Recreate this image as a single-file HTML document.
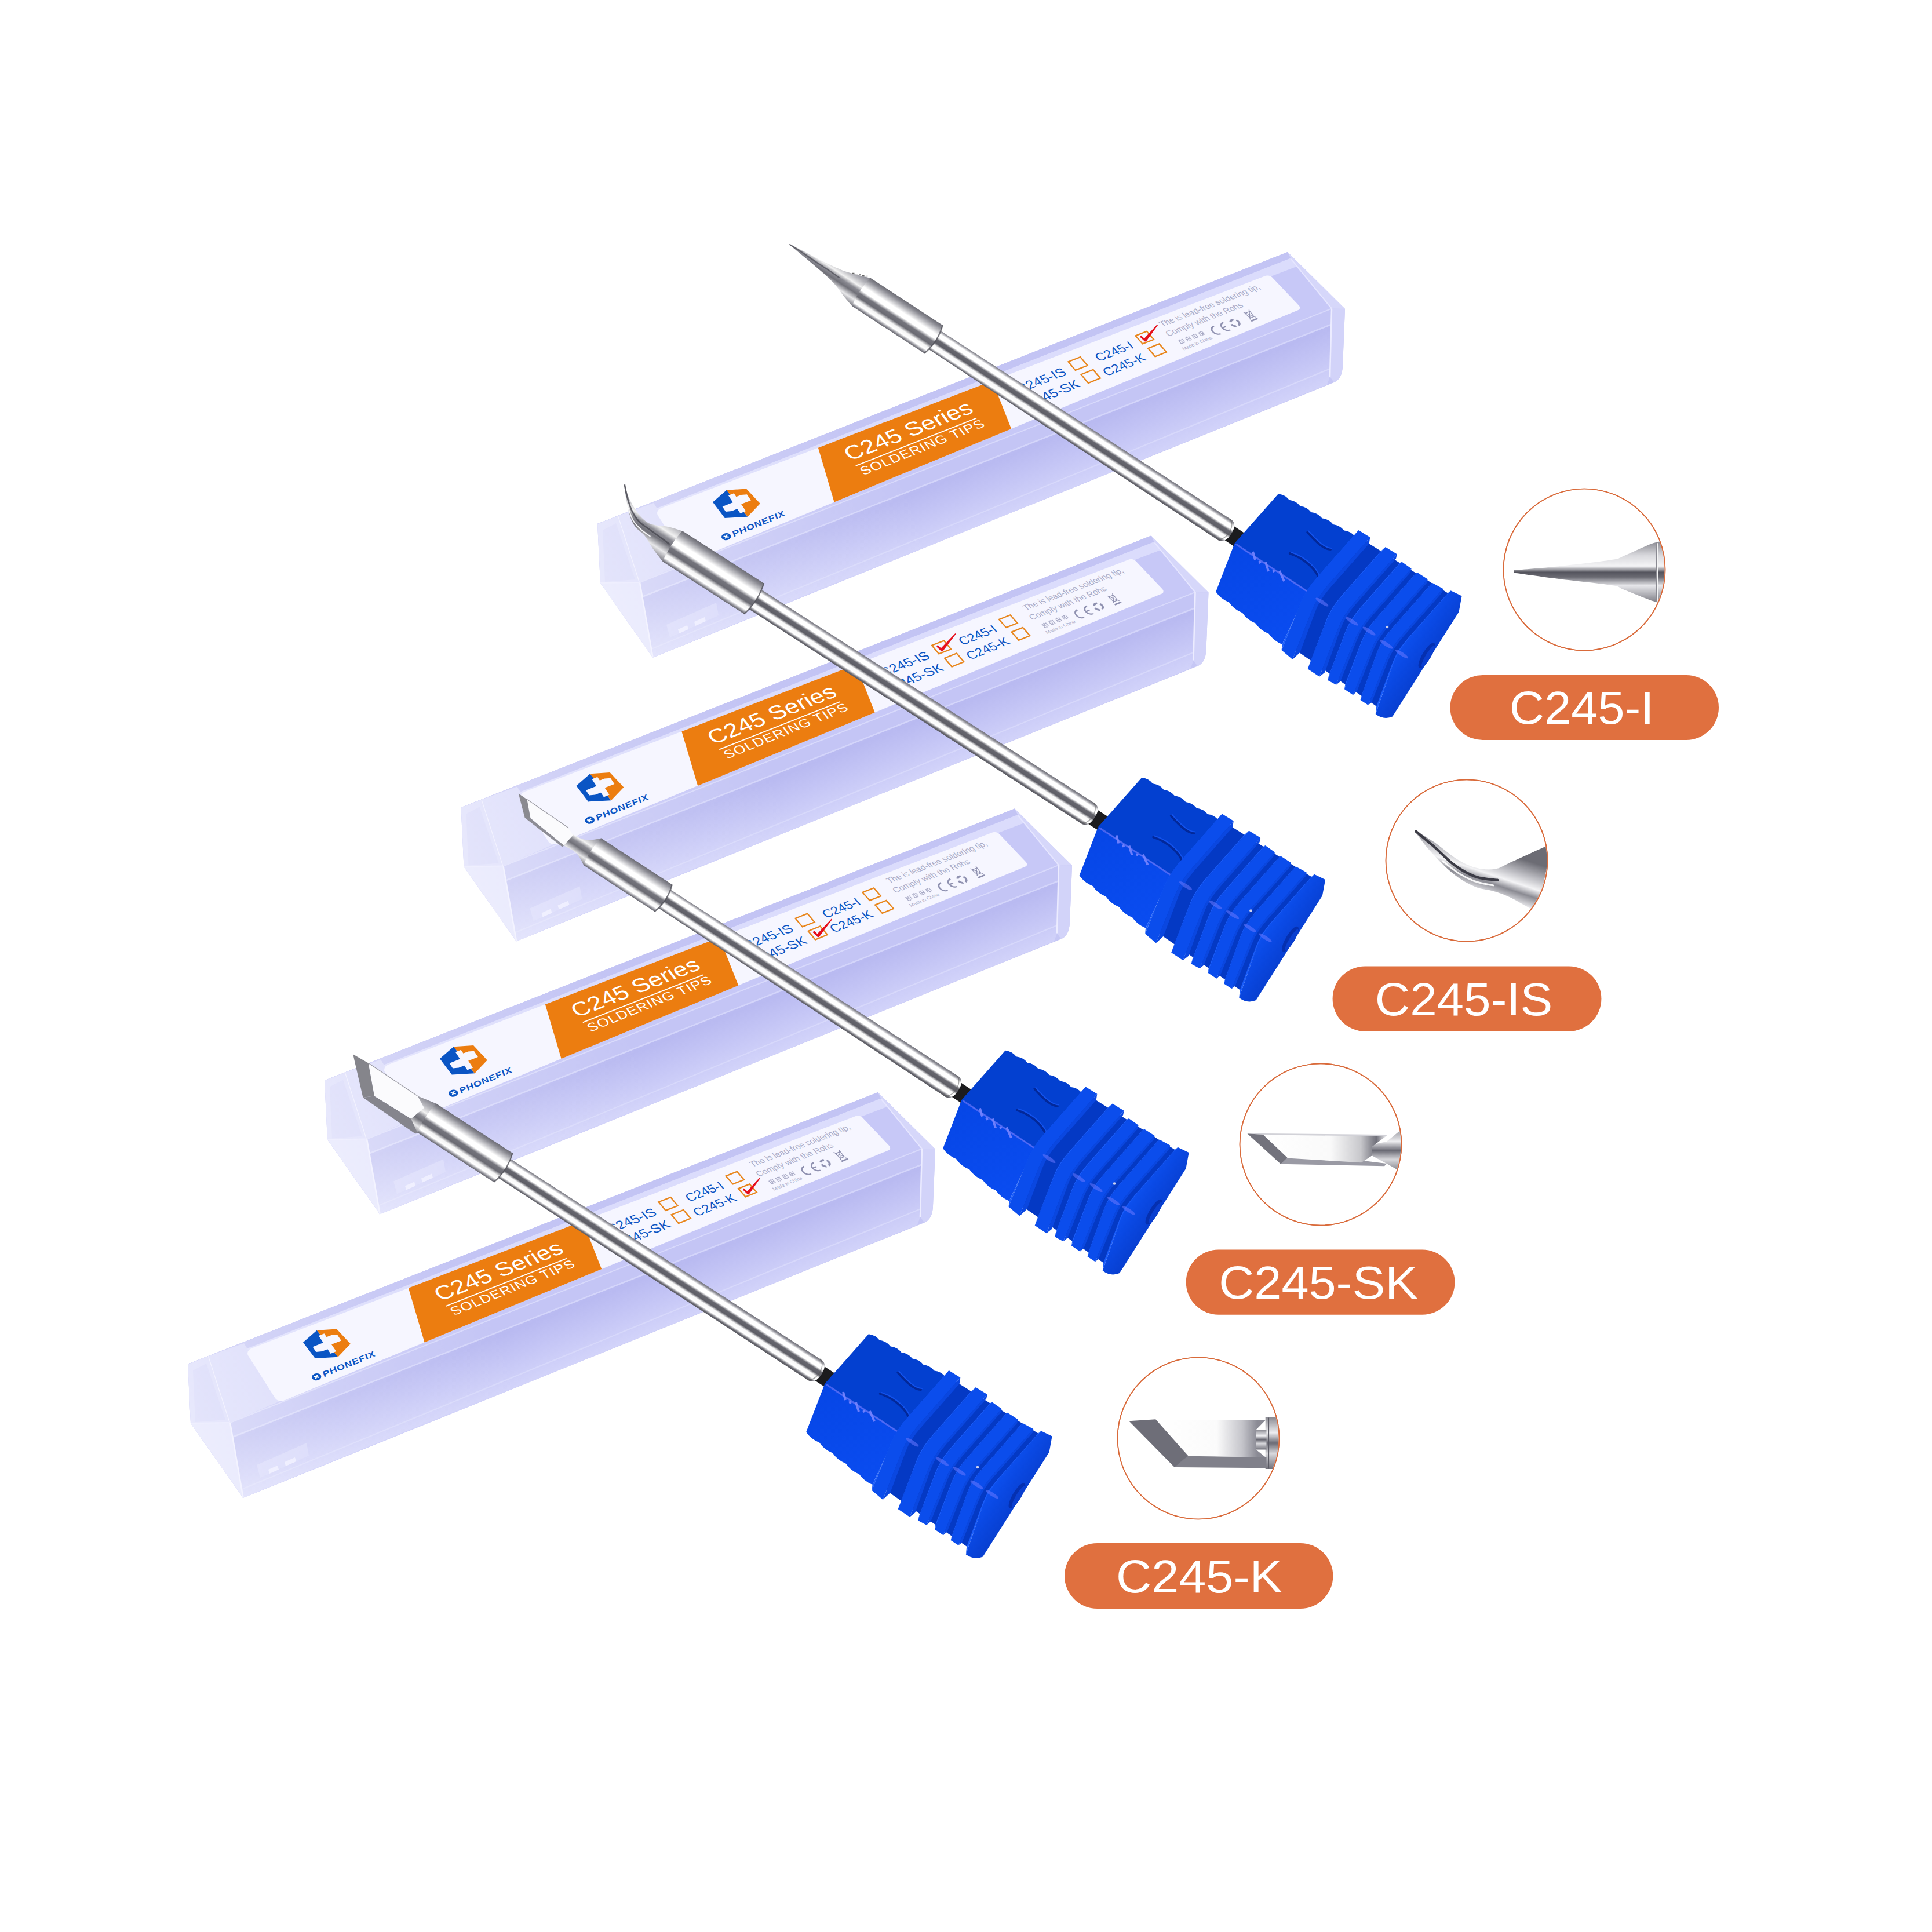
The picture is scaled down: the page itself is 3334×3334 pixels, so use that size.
<!DOCTYPE html>
<html><head><meta charset="utf-8"><title>C245 Series Soldering Tips</title>
<style>html,body{margin:0;padding:0;background:#fff}svg{display:block}text{font-family:"Liberation Sans",sans-serif}</style>
</head><body>
<svg width="3334" height="3334" viewBox="0 0 3334 3334">
<defs>
<linearGradient id="gFront" gradientUnits="userSpaceOnUse" x1="1600" y1="809" x2="1646" y2="925">
<stop offset="0" stop-color="#bfc0f3"/><stop offset="0.25" stop-color="#b9baf1"/><stop offset="0.55" stop-color="#c3c4f5"/><stop offset="1" stop-color="#d3d4fa"/></linearGradient>
<linearGradient id="gLeftLite" gradientUnits="userSpaceOnUse" x1="1040" y1="1020" x2="1560" y2="815">
<stop offset="0" stop-color="#ffffff" stop-opacity="0.42"/><stop offset="0.45" stop-color="#ffffff" stop-opacity="0.18"/><stop offset="1" stop-color="#ffffff" stop-opacity="0"/></linearGradient>

<linearGradient id="gRod" gradientUnits="objectBoundingBox" x1="0" y1="0" x2="0" y2="1">
<stop offset="0" stop-color="#707078"/><stop offset="0.07" stop-color="#909098"/><stop offset="0.17" stop-color="#ffffff"/><stop offset="0.33" stop-color="#ffffff"/>
<stop offset="0.43" stop-color="#66666e"/><stop offset="0.58" stop-color="#5e5e66"/><stop offset="0.68" stop-color="#f8f8f8"/><stop offset="0.83" stop-color="#ffffff"/>
<stop offset="0.93" stop-color="#6a6a72"/><stop offset="1" stop-color="#55555c"/></linearGradient>
<linearGradient id="gSlv" gradientUnits="objectBoundingBox" x1="0" y1="0" x2="0" y2="1">
<stop offset="0" stop-color="#6c6c74"/><stop offset="0.10" stop-color="#8e8e96"/><stop offset="0.22" stop-color="#c8c8cc"/><stop offset="0.33" stop-color="#ffffff"/><stop offset="0.46" stop-color="#ffffff"/>
<stop offset="0.56" stop-color="#74747c"/><stop offset="0.68" stop-color="#6a6a72"/><stop offset="0.78" stop-color="#f4f4f4"/><stop offset="0.88" stop-color="#ffffff"/>
<stop offset="0.96" stop-color="#8a8a92"/><stop offset="1" stop-color="#66666e"/></linearGradient>
<linearGradient id="gCone" gradientUnits="objectBoundingBox" x1="0" y1="0" x2="0" y2="1">
<stop offset="0" stop-color="#80808a"/><stop offset="0.2" stop-color="#b4b4ba"/><stop offset="0.38" stop-color="#f2f2f2"/><stop offset="0.5" stop-color="#8a8a92"/><stop offset="0.62" stop-color="#707078"/>
<stop offset="0.8" stop-color="#e8e8ea"/><stop offset="1" stop-color="#7a7a82"/></linearGradient>

<linearGradient id="gPlate" gradientUnits="userSpaceOnUse" x1="2420" y1="1100" x2="2470" y2="1135">
<stop offset="0" stop-color="#0d52f2"/><stop offset="0.45" stop-color="#0a49e4"/><stop offset="1" stop-color="#0840d2"/></linearGradient>
<linearGradient id="gHFront" gradientUnits="userSpaceOnUse" x1="2130" y1="940" x2="2200" y2="1110">
<stop offset="0" stop-color="#0646e6"/><stop offset="1" stop-color="#0a4cf0"/></linearGradient>
<clipPath id="cc0"><circle cx="2734.0" cy="983.0" r="138.6"/></clipPath>
<clipPath id="cc1"><circle cx="2531.0" cy="1485.0" r="138.6"/></clipPath>
<clipPath id="cc2"><circle cx="2279.0" cy="1975.0" r="138.6"/></clipPath>
<clipPath id="cc3"><circle cx="2068.0" cy="2482.0" r="138.6"/></clipPath>
<linearGradient id="gI" gradientUnits="userSpaceOnUse" x1="0" y1="935" x2="0" y2="1040">
<stop offset="0" stop-color="#8c8c94"/><stop offset="0.22" stop-color="#d8d8dc"/><stop offset="0.40" stop-color="#f4f4f6"/><stop offset="0.5" stop-color="#55555e"/><stop offset="0.58" stop-color="#6a6a72"/><stop offset="0.72" stop-color="#e6e6ea"/><stop offset="1" stop-color="#7c7c84"/></linearGradient>
<linearGradient id="gIS" gradientUnits="userSpaceOnUse" x1="2590" y1="1470" x2="2560" y2="1560">
<stop offset="0" stop-color="#6c6c74"/><stop offset="0.25" stop-color="#b8b8be"/><stop offset="0.45" stop-color="#f4f4f6"/><stop offset="0.6" stop-color="#8a8a92"/><stop offset="0.8" stop-color="#e8e8ec"/><stop offset="1" stop-color="#707078"/></linearGradient>
<linearGradient id="gSKf" gradientUnits="userSpaceOnUse" x1="2180" y1="0" x2="2390" y2="0">
<stop offset="0" stop-color="#ffffff"/><stop offset="0.55" stop-color="#fafafa"/><stop offset="0.8" stop-color="#c8c8cc"/><stop offset="0.93" stop-color="#70707a"/><stop offset="1" stop-color="#e0e0e4"/></linearGradient>
<linearGradient id="gNeck" gradientUnits="objectBoundingBox" x1="0" y1="0" x2="0" y2="1">
<stop offset="0" stop-color="#8a8a92"/><stop offset="0.3" stop-color="#ededf0"/><stop offset="0.5" stop-color="#6a6a74"/><stop offset="0.7" stop-color="#d8d8dc"/><stop offset="1" stop-color="#70707a"/></linearGradient>
<linearGradient id="gKf" gradientUnits="userSpaceOnUse" x1="1995" y1="0" x2="2170" y2="0">
<stop offset="0" stop-color="#ffffff"/><stop offset="0.6" stop-color="#fbfbfb"/><stop offset="0.85" stop-color="#c4c4ca"/><stop offset="1" stop-color="#8a8a94"/></linearGradient>

</defs>
<rect width="3334" height="3334" fill="#fff"/>
<g transform="translate(0.0 0.0)">
<path d="M1031.0,904.0 L2222.0,435.0 L2321.0,533.0 L2317.0,632.0 Q2316.0,654.0 2302.0,660.0 L1126.6,1134.8 L1036.0,1006.0 Z" fill="#c6c7f5"/>
<polygon points="1031.0,904.0 2222.0,435.0 2298.0,532.5 1104.0,1005.0" fill="#c7c8f7"/>
<polygon points="1060.0,906.0 2228.0,445.0 2240.0,459.0 1128.0,884.0" fill="#dbdcfc"/>
<polygon points="1031.0,904.0 2222.0,435.0 2228.0,445.0 1036.0,915.0" fill="#c3c4f4"/>
<polygon points="1104.0,1005.0 2298.0,532.5 2295.0,650.0 2290.0,664.0 1126.6,1134.8" fill="url(#gFront)"/>
<polygon points="1104.0,1005.0 2298.0,532.5 2297.0,560.0 1108.0,1030.0" fill="#c4c5f5"/>
<polyline points="1108.0,1030.0 2297.0,560.0" fill="none" stroke="#d6d7fb" stroke-width="2.5" opacity="0.9"/>
<polyline points="1104.0,1005.0 2298.0,532.5" fill="none" stroke="#dadbfc" stroke-width="2" opacity="0.9"/>
<polyline points="1124.0,1120.0 2296.0,636.0" fill="none" stroke="#d8d9fb" stroke-width="2.2" opacity="0.9"/>
<path d="M2298.0,532.5 L2321.0,533.0 L2317,632 Q2316,654 2302,660 L2295.0,650.0 Z" fill="#d2d3f9"/>
<polygon points="2222.0,435.0 2321.0,533.0 2298.0,532.5 2228.0,447.0" fill="#d6d7fa"/>
<polyline points="2298.0,532.5 2295.0,650.0" fill="none" stroke="#ececff" stroke-width="2.5"/>
<polyline points="2228.0,447.0 2298.0,532.5" fill="none" stroke="#e6e6ff" stroke-width="2"/>
<polygon points="1031.0,904.0 1067.0,890.0 1104.0,1005.0 1126.6,1134.8 1036.0,1006.0" fill="#d7d8fa"/>
<polygon points="1036.0,1006.0 1104.0,1005.0 1126.6,1134.8" fill="#dfe0fc"/>
<polygon points="1040.0,915.0 1063.0,903.0 1096.0,1000.0 1044.0,1004.0" fill="#d0d1f8"/>
<polyline points="1067.0,890.0 1104.0,1005.0 1126.6,1134.8" fill="none" stroke="#ececff" stroke-width="2.5"/>
<polyline points="1036.0,1006.0 1104.0,1005.0" fill="none" stroke="#e4e4fe" stroke-width="2"/>
<polygon points="1067.0,890.0 1128.0,868.0 1190.0,968.0 1104.0,1005.0" fill="#d6d7fa"/>
<polygon points="1150.0,1078.0 1236.0,1040.0 1240.0,1062.0 1156.0,1100.0" fill="#d4d5fa" opacity="0.9"/>
<polygon points="1170.0,1086.0 1186.0,1079.0 1188.0,1086.0 1172.0,1093.0" fill="#ebebff" opacity="0.9"/>
<polygon points="1198.0,1073.0 1216.0,1065.0 1218.0,1072.0 1200.0,1080.0" fill="#ebebff" opacity="0.9"/>
<polygon points="1031.0,904.0 1600.0,680.0 1700.0,900.0 1126.6,1134.8 1036.0,1006.0" fill="url(#gLeftLite)"/>
<polygon points="2184.4,475.8 2186.2,475.4 2188.1,475.4 2190.2,475.7 2192.2,476.4 2194.0,477.5 2195.5,478.7 2241.3,527.1 2242.4,528.6 2243.0,530.1 2243.1,531.7 2242.7,533.0 2241.8,534.2 2240.4,535.0 1198.6,966.2 1195.4,967.2 1192.1,967.5 1188.9,967.2 1185.9,966.2 1183.5,964.7 1181.8,962.8 1135.0,889.0 1134.1,886.7 1134.1,884.4 1134.9,882.0 1136.5,879.8 1138.7,878.0 1141.5,876.6" fill="#f6f6ff" />
<polygon points="1411.9,772.7 1712.5,657.2 1745.2,740.0 1439.6,866.5" fill="#ec7d10" />
<polygon points="1253.8,845.7 1290.1,891.8 1250.7,893.9 1230.0,866.4" fill="#0a55c4" />
<polygon points="1253.8,845.7 1288.0,843.6 1311.8,869.0 1290.1,891.8" fill="#ec7d10" />
<polygon points="1246.6,874.2 1264.8,867.0 1256.9,855.0 1266.5,851.2 1270.5,857.2 1278.9,853.9 1289.0,853.2 1295.9,863.4 1279.1,870.1 1287.1,882.1 1277.5,886.0 1272.3,878.2 1262.6,882.1 1252.3,882.9" fill="#f6f6ff" />
<g transform="matrix(1.2403 -0.5075 0.5806 0.8881 1253.20 926.06)"><circle r="6" fill="#0a55c4"/><path d="M-2.5,-2.5L2.5,2.5M2.5,-2.5L-2.5,2.5" stroke="#fff" stroke-width="1.8"/></g>
<text transform="matrix(1.21108 -0.49564 0.58202 0.87431 1266.74 926.13)" font-size="13.60" fill="#0a55c4" font-weight="bold" font-style="italic" letter-spacing="0.60" text-anchor="start" >PHONEFIX</text>
<text transform="matrix(1.01778 -0.39993 0.57538 0.76534 1466.89 795.74)" font-size="38.50" fill="#fff" font-weight="normal" font-style="normal" letter-spacing="0.00" text-anchor="start" >C245 Series</text>
<polyline points="1476.7,803.9 1685.0,721.6" fill="none" stroke="#fff" stroke-width="1.80" />
<text transform="matrix(1.03196 -0.41730 0.58305 0.78257 1490.39 820.60)" font-size="22.60" fill="#fff" font-weight="normal" font-style="normal" letter-spacing="1.15" text-anchor="start" >SOLDERING TIPS</text>
<text transform="matrix(0.88851 -0.35011 0.57392 0.70194 1760.70 678.18)" font-size="25.00" fill="#0a55c4" font-weight="normal" font-style="normal" letter-spacing="0.00" text-anchor="start" >C245-IS</text>
<text transform="matrix(0.89012 -0.35945 0.58013 0.71059 1775.72 703.58)" font-size="25.00" fill="#0a55c4" font-weight="normal" font-style="normal" letter-spacing="0.00" text-anchor="start" >C245-SK</text>
<text transform="matrix(0.81825 -0.32242 0.57040 0.66588 1896.73 624.23)" font-size="25.00" fill="#0a55c4" font-weight="normal" font-style="normal" letter-spacing="0.00" text-anchor="start" >C245-I</text>
<text transform="matrix(0.82040 -0.33142 0.57652 0.67443 1910.18 649.39)" font-size="25.00" fill="#0a55c4" font-weight="normal" font-style="normal" letter-spacing="0.00" text-anchor="start" >C245-K</text>
<polygon points="1843.5,624.2 1864.3,616.1 1876.6,630.7 1855.7,638.9" fill="none" stroke="#e8861c" stroke-width="2.3"/>
<polygon points="1959.6,579.4 1978.9,571.8 1991.1,585.8 1971.8,593.4" fill="none" stroke="#e8861c" stroke-width="2.3"/>
<polygon points="1865.6,646.2 1886.4,637.9 1898.8,652.6 1878.0,661.1" fill="none" stroke="#e8861c" stroke-width="2.3"/>
<polygon points="1981.2,601.1 2000.5,593.4 2012.8,607.5 1993.5,615.3" fill="none" stroke="#e8861c" stroke-width="2.3"/>
<polygon points="1967.3,581.6 1969.1,578.7 1974.7,583.9 1996.8,560.1 1998.1,560.9 1977.8,589.3 1975.9,589.6" fill="#e60f1c"/>
<text transform="matrix(0.71704 -0.27895 0.55904 0.60896 2006.00 564.02)" font-size="18.40" fill="#a9abc6" font-weight="normal" font-style="normal" letter-spacing="0.00" text-anchor="start" >The is lead-free soldering tip,</text>
<text transform="matrix(0.73665 -0.29176 0.56504 0.62425 2016.53 580.63)" font-size="18.20" fill="#a9abc6" font-weight="normal" font-style="normal" letter-spacing="0.00" text-anchor="start" >Comply with the Rohs</text>
<text transform="matrix(0.75546 -0.30876 0.57411 0.64316 2043.00 604.66)" font-size="10.20" fill="#a9abc6" font-weight="normal" font-style="normal" letter-spacing="0.00" text-anchor="start" >Made in China</text>
<g transform="matrix(0.76805 -0.30895 0.57152 0.64540 2031.34 587.36)" stroke="#a9abc6" stroke-width="1.3" fill="none"><path d="M1,2H11M1,6H11M1,10H11M6,0V12M2,2V10M10,2V10"/></g>
<g transform="matrix(0.76205 -0.30653 0.57099 0.64218 2042.82 582.75)" stroke="#a9abc6" stroke-width="1.3" fill="none"><path d="M1,2H11M1,6H11M1,10H11M6,0V12M2,2V10M10,2V10"/></g>
<g transform="matrix(0.75611 -0.30415 0.57045 0.63900 2054.21 578.17)" stroke="#a9abc6" stroke-width="1.3" fill="none"><path d="M1,2H11M1,6H11M1,10H11M6,0V12M2,2V10M10,2V10"/></g>
<g transform="matrix(0.75024 -0.30179 0.56990 0.63584 2065.51 573.62)" stroke="#a9abc6" stroke-width="1.3" fill="none"><path d="M1,2H11M1,6H11M1,10H11M6,0V12M2,2V10M10,2V10"/></g>
<g transform="matrix(0.74120 -0.29804 0.56894 0.63086 2082.75 566.26)" stroke="#8f91b0" stroke-width="3" fill="none"><path d="M15,1.5A10.5,10.5 0 1 0 15,22.5"/><path d="M37,1.5A10.5,10.5 0 1 0 37,22.5M26.5,12H35"/></g>
<g transform="matrix(0.71960 -0.29199 0.56877 0.62159 2130.96 557.23)" fill="none" stroke="#8f91b0" stroke-width="4.2" stroke-dasharray="10.5 5.2"><circle r="8.3"/></g>
<g transform="matrix(0.70548 -0.28558 0.56664 0.61320 2157.29 543.84)" stroke="#8f91b0" stroke-width="1.6" fill="none"><path d="M-7,-12L7,9M7,-12L-7,9M-6,-8H6L4.5,6H-4.5Z"/><path d="M-8,13H8" stroke-width="3.4"/></g>
<g transform="translate(2122.0 920.0) rotate(33.20)">
<path d="M-908.8,-1.5 C-903.7,-2.0 -888.1,-3.8 -878.3,-4.8 C-868.6,-5.8 -859.5,-6.3 -850.3,-7.3 C-841.0,-8.3 -830.5,-9.8 -822.9,-10.9 C-815.4,-12.0 -808.1,-13.4 -805.1,-13.9 L-788.5,-18.8 L-759.1,-29.0 L-759.1,29.0 L-759.1,29.0 C-762.8,27.9 -773.8,24.9 -781.3,22.4 C-788.9,19.9 -797.2,16.3 -804.5,14.2 C-811.8,12.1 -817.5,11.0 -825.3,9.6 C-833.2,8.2 -841.8,7.2 -851.5,5.9 C-861.2,4.7 -874.1,3.3 -883.6,2.2 C-893.1,1.1 -904.1,-0.2 -908.3,-0.6 Z" fill="url(#gCone)"/>
<path d="M-908.5,-1.1 C-903.9,-1.1 -890.6,-1.3 -881.0,-1.3 C-871.4,-1.2 -860.3,-0.8 -850.9,-0.7 C-841.4,-0.6 -831.8,-0.8 -824.1,-0.7 C-816.5,-0.5 -808.0,0.0 -804.8,0.1" fill="none" stroke="#55555e" stroke-width="2.2" opacity="0.8"/>
<path d="M-790.5,-18.8 l3,-2" stroke="#666" stroke-width="1.4"/>
<path d="M-785.0,-20.9 l3,-2" stroke="#666" stroke-width="1.4"/>
<path d="M-779.5,-22.9 l3,-2" stroke="#666" stroke-width="1.4"/>
<path d="M-774.0,-24.9 l3,-2" stroke="#666" stroke-width="1.4"/>
<path d="M-768.5,-27.0 l3,-2" stroke="#666" stroke-width="1.4"/>
<rect x="-4" y="-14" width="40" height="29" fill="#1c1c1e"/>
<path d="M-612.8,-19.0 L-9,-21.0 Q3,-19.0 3,0 Q3,19.0 -9,21.0 L-612.8,19.0 Z" fill="url(#gRod)"/>
<path d="M-14,-21.0 Q-2,-18.0 -1,0 Q-2,18.0 -14,21.0" fill="none" stroke="#555" stroke-width="1.5" opacity="0.5"/>
<path d="M-760.1,-29.0 L-610.8,-29.0 Q-601.8,0 -610.8,29.0 L-760.1,29.0 Q-765.1,0 -760.1,-29.0 Z" fill="url(#gSlv)"/>
<path d="M-610.8,-29.0 Q-601.8,0 -610.8,29.0" fill="none" stroke="#4a4a52" stroke-width="2.2" opacity="0.75"/>
</g>
<polygon points="2356.0,934.0 2500.0,1024.5 2412.3,1124.1 2377.0,1220.0 2232.0,1119.0 2270.9,1030.6" fill="#0439c4"/>
<path d="M2205.9,852.3 Q2217.6,853.6 2224.8,862.8 Q2236.5,864.1 2243.8,873.4 Q2255.4,874.6 2262.7,883.9 Q2274.3,885.1 2281.6,894.4 Q2293.3,895.7 2300.5,904.9 Q2312.2,906.2 2319.5,915.5 Q2331.1,916.7 2338.4,926.0 L2255.4,1020.2 L2130.5,937.6 Z" fill="#0340d0"/>
<path d="M2130.5,937.6 L2255.4,1020.2 L2212.5,1112.0 Q2197.6,1105.9 2189.6,1093.8 Q2174.7,1087.8 2166.8,1075.7 Q2151.8,1069.6 2143.9,1057.5 Q2129.0,1051.4 2121.1,1039.4 Q2106.1,1033.3 2098.2,1021.2 Z" fill="url(#gHFront)"/>
<path d="M2133.5,939.6 L2255.4,1020.2" stroke="#5e70fa" stroke-width="3" opacity="0.75" stroke-linecap="round"/>
<path d="M2162.0,952.0 L2166.0,966.0" stroke="#7684ff" stroke-width="4" opacity="0.9"/>
<path d="M2173.0,968.0 L2175.0,972.0" stroke="#7684ff" stroke-width="4" opacity="0.9"/>
<path d="M2184.0,970.0 L2189.0,986.0" stroke="#7684ff" stroke-width="4" opacity="0.9"/>
<path d="M2197.0,984.0 L2199.0,987.0" stroke="#7684ff" stroke-width="4" opacity="0.9"/>
<path d="M2208.0,985.0 L2216.0,1003.0" stroke="#7684ff" stroke-width="4" opacity="0.9"/>
<path d="M2256.4,918.5 Q2268,932 2278,940 T2296,948" fill="none" stroke="#02289a" stroke-width="4" stroke-linecap="round"/>
<path d="M2258.4,916.5 Q2270,930 2280,938 T2298,946" fill="none" stroke="#1858f4" stroke-width="2" stroke-linecap="round" opacity="0.8"/>
<path d="M2225.8,955 Q2245,961 2260,975 T2277,1002" fill="none" stroke="#02289a" stroke-width="4" stroke-linecap="round"/>
<path d="M2227.8,953 Q2247,959 2262,973 T2279,1000" fill="none" stroke="#1858f4" stroke-width="2" stroke-linecap="round" opacity="0.8"/>
<path d="M2364.3,927.3 L2362.7,938.1 L2296.2,1013.6 Q2277.5,1034.9 2269.9,1054.9 L2243.3,1125.9 L2230.5,1138.1 L2230.5,1138.1 L2263.2,1055.0 Q2272.5,1031.6 2292.7,1008.6 Z" fill="#0a47e0"/>
<path d="M2338.4,926.0 L2344.5,914.9 L2273.2,995.9 Q2253.0,1018.7 2243.9,1041.4 L2211.6,1121.9 L2212.5,1112.0 L2245.9,1040.4 Q2255.4,1020.2 2273.6,999.5 Z" fill="#1a5dfa" />
<path d="M2344.5,914.9 L2364.3,927.3 L2292.7,1008.6 Q2272.5,1031.6 2263.2,1055.0 L2230.5,1138.1 L2211.6,1121.9 L2243.9,1041.4 Q2253.0,1018.7 2273.2,995.9 Z" fill="#0b4dec" />
<path d="M2410.7,956.3 L2409.1,963.8 L2340.4,1041.7 Q2321.1,1063.7 2313.4,1085.0 L2286.3,1160.3 L2276.9,1167.7 L2276.9,1167.7 L2308.9,1085.0 Q2317.9,1061.6 2338.3,1038.5 Z" fill="#0a47e0"/>
<path d="M2382.6,951.3 L2390.8,943.9 L2318.8,1025.7 Q2298.4,1048.7 2289.3,1071.9 L2256.7,1154.2 L2262.1,1139.4 L2289.6,1068.1 Q2297.4,1048.0 2316.1,1026.8 Z" fill="#1a5dfa" />
<path d="M2390.8,943.9 L2410.7,956.3 L2338.3,1038.5 Q2317.9,1061.6 2308.9,1085.0 L2276.9,1167.7 L2256.7,1154.2 L2289.3,1071.9 Q2298.4,1048.7 2318.8,1025.7 Z" fill="#0b4dec" />
<path d="M2435.6,981.2 L2433.9,987.8 L2368.5,1062.0 Q2350.1,1082.9 2342.0,1103.3 L2313.2,1175.7 L2305.8,1181.8 L2305.8,1181.8 L2338.3,1103.3 Q2347.5,1081.2 2366.9,1059.2 Z" fill="#0a47e0"/>
<path d="M2415.7,971.2 L2419.0,969.6 L2350.0,1047.9 Q2330.5,1070.0 2321.8,1092.8 L2291.0,1173.7 L2293.0,1166.3 L2321.4,1090.6 Q2329.4,1069.2 2348.3,1047.7 Z" fill="#1a5dfa" />
<path d="M2419.0,969.6 L2435.6,981.2 L2366.9,1059.2 Q2347.5,1081.2 2338.3,1103.3 L2305.8,1181.8 L2291.0,1173.7 L2321.8,1092.8 Q2330.5,1070.0 2350.0,1047.9 Z" fill="#0b4dec" />
<path d="M2463.7,999.4 L2462.1,1006.0 L2396.5,1080.4 Q2378.0,1101.4 2370.0,1121.6 L2341.5,1193.2 L2334.8,1199.3 L2334.8,1199.3 L2366.4,1121.6 Q2375.4,1099.7 2394.8,1077.6 Z" fill="#0a47e0"/>
<path d="M2442.2,990.3 L2445.5,987.8 L2376.8,1065.8 Q2357.4,1087.8 2349.2,1110.1 L2320.0,1189.2 L2321.3,1181.1 L2348.9,1108.0 Q2356.7,1087.3 2375.5,1066.0 Z" fill="#1a5dfa" />
<path d="M2445.5,987.8 L2463.7,999.4 L2394.8,1077.6 Q2375.4,1099.7 2366.4,1121.6 L2334.8,1199.3 L2320.0,1189.2 L2349.2,1110.1 Q2357.4,1087.8 2376.8,1065.8 Z" fill="#0b4dec" />
<path d="M2490.2,1015.9 L2489.4,1021.7 L2422.8,1097.3 Q2404.0,1118.6 2395.9,1139.2 L2367.0,1212.0 L2361.0,1216.8 L2361.0,1216.8 L2392.4,1138.8 Q2401.3,1116.8 2420.8,1094.6 Z" fill="#0a47e0"/>
<path d="M2468.7,1008.5 L2472.0,1006.0 L2403.6,1083.7 Q2384.3,1105.6 2376.2,1128.1 L2347.6,1208.0 L2349.6,1200.0 L2376.1,1126.0 Q2383.6,1105.1 2402.3,1083.9 Z" fill="#1a5dfa" />
<path d="M2472.0,1006.0 L2490.2,1015.9 L2420.8,1094.6 Q2401.3,1116.8 2392.4,1138.8 L2361.0,1216.8 L2347.6,1208.0 L2376.2,1128.1 Q2384.3,1105.6 2403.6,1083.7 Z" fill="#0b4dec" />
<path d="M2503.5,1019.3 L2522.6,1028.5 L2517.5,1056 L2403,1236.5 Q2388,1243 2374,1232.5 L2373.8,1232.3 L2411.6,1123.6 Z" fill="url(#gPlate)"/>
<path d="M2498.5,1023.4 L2503.5,1019.3 L2431.8,1100.7 Q2411.6,1123.6 2403.3,1147.5 L2373.8,1232.3 L2375.2,1218.8 L2402.9,1144.1 Q2410.7,1123.1 2430.0,1101.1 Z" fill="#1a5dfa" />
<ellipse cx="2462" cy="1131" rx="7.5" ry="25" transform="rotate(31 2462 1131)" fill="#0530b0"/>
<ellipse cx="2464.5" cy="1132.5" rx="4.5" ry="21" transform="rotate(31 2464.5 1132.5)" fill="#0a3fd0"/>
<ellipse cx="2281.5" cy="1039.0" rx="13" ry="3.2" transform="rotate(33 2281.5 1039.0)" fill="#6a78ff" opacity="0.55"/>
<ellipse cx="2332.9" cy="1072.0" rx="13" ry="3.2" transform="rotate(33 2332.9 1072.0)" fill="#6a78ff" opacity="0.55"/>
<ellipse cx="2362.7" cy="1089.0" rx="13" ry="3.2" transform="rotate(33 2362.7 1089.0)" fill="#6a78ff" opacity="0.55"/>
<ellipse cx="2392.5" cy="1112.0" rx="13" ry="3.2" transform="rotate(33 2392.5 1112.0)" fill="#6a78ff" opacity="0.55"/>
<ellipse cx="2419.0" cy="1128.6" rx="13" ry="3.2" transform="rotate(33 2419.0 1128.6)" fill="#6a78ff" opacity="0.55"/>
<circle cx="2394" cy="1082" r="2.3" fill="#cfd4f0"/>
</g>
<g transform="translate(-235.5 489.5)">
<path d="M1031.0,904.0 L2222.0,435.0 L2321.0,533.0 L2317.0,632.0 Q2316.0,654.0 2302.0,660.0 L1126.6,1134.8 L1036.0,1006.0 Z" fill="#c6c7f5"/>
<polygon points="1031.0,904.0 2222.0,435.0 2298.0,532.5 1104.0,1005.0" fill="#c7c8f7"/>
<polygon points="1060.0,906.0 2228.0,445.0 2240.0,459.0 1128.0,884.0" fill="#dbdcfc"/>
<polygon points="1031.0,904.0 2222.0,435.0 2228.0,445.0 1036.0,915.0" fill="#c3c4f4"/>
<polygon points="1104.0,1005.0 2298.0,532.5 2295.0,650.0 2290.0,664.0 1126.6,1134.8" fill="url(#gFront)"/>
<polygon points="1104.0,1005.0 2298.0,532.5 2297.0,560.0 1108.0,1030.0" fill="#c4c5f5"/>
<polyline points="1108.0,1030.0 2297.0,560.0" fill="none" stroke="#d6d7fb" stroke-width="2.5" opacity="0.9"/>
<polyline points="1104.0,1005.0 2298.0,532.5" fill="none" stroke="#dadbfc" stroke-width="2" opacity="0.9"/>
<polyline points="1124.0,1120.0 2296.0,636.0" fill="none" stroke="#d8d9fb" stroke-width="2.2" opacity="0.9"/>
<path d="M2298.0,532.5 L2321.0,533.0 L2317,632 Q2316,654 2302,660 L2295.0,650.0 Z" fill="#d2d3f9"/>
<polygon points="2222.0,435.0 2321.0,533.0 2298.0,532.5 2228.0,447.0" fill="#d6d7fa"/>
<polyline points="2298.0,532.5 2295.0,650.0" fill="none" stroke="#ececff" stroke-width="2.5"/>
<polyline points="2228.0,447.0 2298.0,532.5" fill="none" stroke="#e6e6ff" stroke-width="2"/>
<polygon points="1031.0,904.0 1067.0,890.0 1104.0,1005.0 1126.6,1134.8 1036.0,1006.0" fill="#d7d8fa"/>
<polygon points="1036.0,1006.0 1104.0,1005.0 1126.6,1134.8" fill="#dfe0fc"/>
<polygon points="1040.0,915.0 1063.0,903.0 1096.0,1000.0 1044.0,1004.0" fill="#d0d1f8"/>
<polyline points="1067.0,890.0 1104.0,1005.0 1126.6,1134.8" fill="none" stroke="#ececff" stroke-width="2.5"/>
<polyline points="1036.0,1006.0 1104.0,1005.0" fill="none" stroke="#e4e4fe" stroke-width="2"/>
<polygon points="1067.0,890.0 1128.0,868.0 1190.0,968.0 1104.0,1005.0" fill="#d6d7fa"/>
<polygon points="1150.0,1078.0 1236.0,1040.0 1240.0,1062.0 1156.0,1100.0" fill="#d4d5fa" opacity="0.9"/>
<polygon points="1170.0,1086.0 1186.0,1079.0 1188.0,1086.0 1172.0,1093.0" fill="#ebebff" opacity="0.9"/>
<polygon points="1198.0,1073.0 1216.0,1065.0 1218.0,1072.0 1200.0,1080.0" fill="#ebebff" opacity="0.9"/>
<polygon points="1031.0,904.0 1600.0,680.0 1700.0,900.0 1126.6,1134.8 1036.0,1006.0" fill="url(#gLeftLite)"/>
<polygon points="2184.4,475.8 2186.2,475.4 2188.1,475.4 2190.2,475.7 2192.2,476.4 2194.0,477.5 2195.5,478.7 2241.3,527.1 2242.4,528.6 2243.0,530.1 2243.1,531.7 2242.7,533.0 2241.8,534.2 2240.4,535.0 1198.6,966.2 1195.4,967.2 1192.1,967.5 1188.9,967.2 1185.9,966.2 1183.5,964.7 1181.8,962.8 1135.0,889.0 1134.1,886.7 1134.1,884.4 1134.9,882.0 1136.5,879.8 1138.7,878.0 1141.5,876.6" fill="#f6f6ff" />
<polygon points="1411.9,772.7 1712.5,657.2 1745.2,740.0 1439.6,866.5" fill="#ec7d10" />
<polygon points="1253.8,845.7 1290.1,891.8 1250.7,893.9 1230.0,866.4" fill="#0a55c4" />
<polygon points="1253.8,845.7 1288.0,843.6 1311.8,869.0 1290.1,891.8" fill="#ec7d10" />
<polygon points="1246.6,874.2 1264.8,867.0 1256.9,855.0 1266.5,851.2 1270.5,857.2 1278.9,853.9 1289.0,853.2 1295.9,863.4 1279.1,870.1 1287.1,882.1 1277.5,886.0 1272.3,878.2 1262.6,882.1 1252.3,882.9" fill="#f6f6ff" />
<g transform="matrix(1.2403 -0.5075 0.5806 0.8881 1253.20 926.06)"><circle r="6" fill="#0a55c4"/><path d="M-2.5,-2.5L2.5,2.5M2.5,-2.5L-2.5,2.5" stroke="#fff" stroke-width="1.8"/></g>
<text transform="matrix(1.21108 -0.49564 0.58202 0.87431 1266.74 926.13)" font-size="13.60" fill="#0a55c4" font-weight="bold" font-style="italic" letter-spacing="0.60" text-anchor="start" >PHONEFIX</text>
<text transform="matrix(1.01778 -0.39993 0.57538 0.76534 1466.89 795.74)" font-size="38.50" fill="#fff" font-weight="normal" font-style="normal" letter-spacing="0.00" text-anchor="start" >C245 Series</text>
<polyline points="1476.7,803.9 1685.0,721.6" fill="none" stroke="#fff" stroke-width="1.80" />
<text transform="matrix(1.03196 -0.41730 0.58305 0.78257 1490.39 820.60)" font-size="22.60" fill="#fff" font-weight="normal" font-style="normal" letter-spacing="1.15" text-anchor="start" >SOLDERING TIPS</text>
<text transform="matrix(0.88851 -0.35011 0.57392 0.70194 1760.70 678.18)" font-size="25.00" fill="#0a55c4" font-weight="normal" font-style="normal" letter-spacing="0.00" text-anchor="start" >C245-IS</text>
<text transform="matrix(0.89012 -0.35945 0.58013 0.71059 1775.72 703.58)" font-size="25.00" fill="#0a55c4" font-weight="normal" font-style="normal" letter-spacing="0.00" text-anchor="start" >C245-SK</text>
<text transform="matrix(0.81825 -0.32242 0.57040 0.66588 1896.73 624.23)" font-size="25.00" fill="#0a55c4" font-weight="normal" font-style="normal" letter-spacing="0.00" text-anchor="start" >C245-I</text>
<text transform="matrix(0.82040 -0.33142 0.57652 0.67443 1910.18 649.39)" font-size="25.00" fill="#0a55c4" font-weight="normal" font-style="normal" letter-spacing="0.00" text-anchor="start" >C245-K</text>
<polygon points="1843.5,624.2 1864.3,616.1 1876.6,630.7 1855.7,638.9" fill="none" stroke="#e8861c" stroke-width="2.3"/>
<polygon points="1959.6,579.4 1978.9,571.8 1991.1,585.8 1971.8,593.4" fill="none" stroke="#e8861c" stroke-width="2.3"/>
<polygon points="1865.6,646.2 1886.4,637.9 1898.8,652.6 1878.0,661.1" fill="none" stroke="#e8861c" stroke-width="2.3"/>
<polygon points="1981.2,601.1 2000.5,593.4 2012.8,607.5 1993.5,615.3" fill="none" stroke="#e8861c" stroke-width="2.3"/>
<polygon points="1851.6,626.5 1853.6,623.4 1859.3,628.9 1883.9,603.5 1885.1,604.4 1862.3,634.5 1860.3,634.8" fill="#e60f1c"/>
<text transform="matrix(0.71704 -0.27895 0.55904 0.60896 2006.00 564.02)" font-size="18.40" fill="#a9abc6" font-weight="normal" font-style="normal" letter-spacing="0.00" text-anchor="start" >The is lead-free soldering tip,</text>
<text transform="matrix(0.73665 -0.29176 0.56504 0.62425 2016.53 580.63)" font-size="18.20" fill="#a9abc6" font-weight="normal" font-style="normal" letter-spacing="0.00" text-anchor="start" >Comply with the Rohs</text>
<text transform="matrix(0.75546 -0.30876 0.57411 0.64316 2043.00 604.66)" font-size="10.20" fill="#a9abc6" font-weight="normal" font-style="normal" letter-spacing="0.00" text-anchor="start" >Made in China</text>
<g transform="matrix(0.76805 -0.30895 0.57152 0.64540 2031.34 587.36)" stroke="#a9abc6" stroke-width="1.3" fill="none"><path d="M1,2H11M1,6H11M1,10H11M6,0V12M2,2V10M10,2V10"/></g>
<g transform="matrix(0.76205 -0.30653 0.57099 0.64218 2042.82 582.75)" stroke="#a9abc6" stroke-width="1.3" fill="none"><path d="M1,2H11M1,6H11M1,10H11M6,0V12M2,2V10M10,2V10"/></g>
<g transform="matrix(0.75611 -0.30415 0.57045 0.63900 2054.21 578.17)" stroke="#a9abc6" stroke-width="1.3" fill="none"><path d="M1,2H11M1,6H11M1,10H11M6,0V12M2,2V10M10,2V10"/></g>
<g transform="matrix(0.75024 -0.30179 0.56990 0.63584 2065.51 573.62)" stroke="#a9abc6" stroke-width="1.3" fill="none"><path d="M1,2H11M1,6H11M1,10H11M6,0V12M2,2V10M10,2V10"/></g>
<g transform="matrix(0.74120 -0.29804 0.56894 0.63086 2082.75 566.26)" stroke="#8f91b0" stroke-width="3" fill="none"><path d="M15,1.5A10.5,10.5 0 1 0 15,22.5"/><path d="M37,1.5A10.5,10.5 0 1 0 37,22.5M26.5,12H35"/></g>
<g transform="matrix(0.71960 -0.29199 0.56877 0.62159 2130.96 557.23)" fill="none" stroke="#8f91b0" stroke-width="4.2" stroke-dasharray="10.5 5.2"><circle r="8.3"/></g>
<g transform="matrix(0.70548 -0.28558 0.56664 0.61320 2157.29 543.84)" stroke="#8f91b0" stroke-width="1.6" fill="none"><path d="M-7,-12L7,9M7,-12L-7,9M-6,-8H6L4.5,6H-4.5Z"/><path d="M-8,13H8" stroke-width="3.4"/></g>
<g transform="translate(2122.0 920.0) rotate(32.75)">
<path d="M-990.2,-45.1 C-987.5,-42.8 -979.8,-35.2 -973.9,-31.0 C-968.0,-26.8 -961.3,-23.1 -954.6,-20.0 C-947.9,-17.0 -940.5,-13.8 -933.7,-12.5 C-927.0,-11.2 -921.7,-10.4 -913.9,-12.3 C-906.1,-14.3 -895.7,-21.1 -887.1,-24.3 C-878.5,-27.5 -866.5,-30.3 -862.4,-31.5 L-862.4,31.5 L-862.4,31.5 C-866.9,29.9 -880.9,25.3 -889.5,21.8 C-898.1,18.3 -906.4,13.0 -914.0,10.5 C-921.6,8.0 -928.4,9.1 -934.9,6.7 C-941.4,4.3 -946.5,1.1 -952.8,-3.9 C-959.1,-8.9 -966.3,-16.5 -972.6,-23.2 C-978.9,-29.9 -987.5,-40.7 -990.5,-44.2 Z" fill="url(#gCone)"/>
<path d="M-990.3,-44.7 C-987.5,-41.8 -979.3,-33.0 -973.3,-27.7 C-967.3,-22.4 -960.7,-16.7 -954.3,-12.9 C-947.8,-9.0 -941.7,-6.2 -934.7,-4.5 C-927.8,-2.8 -920.1,-3.2 -912.6,-2.7 C-905.1,-2.2 -897.0,-1.9 -889.7,-1.5 C-882.4,-1.0 -872.5,-0.2 -869.0,0.0" fill="none" stroke="#4c4c55" stroke-width="2.6" opacity="0.85"/>
<path d="M-963.3,-14.4 C-960.2,-12.1 -951.0,-3.9 -944.5,-0.6 C-938.1,2.6 -931.6,3.9 -924.8,5.1 C-918.1,6.4 -907.6,6.4 -904.2,6.6" fill="none" stroke="#fff" stroke-width="2" opacity="0.9"/>
<rect x="-4" y="-14" width="40" height="29" fill="#1c1c1e"/>
<path d="M-698.0,-20.0 L-9,-21.0 Q3,-19.0 3,0 Q3,19.0 -9,21.0 L-698.0,20.0 Z" fill="url(#gRod)"/>
<path d="M-14,-21.0 Q-2,-18.0 -1,0 Q-2,18.0 -14,21.0" fill="none" stroke="#555" stroke-width="1.5" opacity="0.5"/>
<path d="M-863.4,-31.5 L-696.0,-31.5 Q-687.0,0 -696.0,31.5 L-863.4,31.5 Q-868.4,0 -863.4,-31.5 Z" fill="url(#gSlv)"/>
<path d="M-696.0,-31.5 Q-687.0,0 -696.0,31.5" fill="none" stroke="#4a4a52" stroke-width="2.2" opacity="0.75"/>
</g>
<polygon points="2356.0,934.0 2500.0,1024.5 2412.3,1124.1 2377.0,1220.0 2232.0,1119.0 2270.9,1030.6" fill="#0439c4"/>
<path d="M2205.9,852.3 Q2217.6,853.6 2224.8,862.8 Q2236.5,864.1 2243.8,873.4 Q2255.4,874.6 2262.7,883.9 Q2274.3,885.1 2281.6,894.4 Q2293.3,895.7 2300.5,904.9 Q2312.2,906.2 2319.5,915.5 Q2331.1,916.7 2338.4,926.0 L2255.4,1020.2 L2130.5,937.6 Z" fill="#0340d0"/>
<path d="M2130.5,937.6 L2255.4,1020.2 L2212.5,1112.0 Q2197.6,1105.9 2189.6,1093.8 Q2174.7,1087.8 2166.8,1075.7 Q2151.8,1069.6 2143.9,1057.5 Q2129.0,1051.4 2121.1,1039.4 Q2106.1,1033.3 2098.2,1021.2 Z" fill="url(#gHFront)"/>
<path d="M2133.5,939.6 L2255.4,1020.2" stroke="#5e70fa" stroke-width="3" opacity="0.75" stroke-linecap="round"/>
<path d="M2162.0,952.0 L2166.0,966.0" stroke="#7684ff" stroke-width="4" opacity="0.9"/>
<path d="M2173.0,968.0 L2175.0,972.0" stroke="#7684ff" stroke-width="4" opacity="0.9"/>
<path d="M2184.0,970.0 L2189.0,986.0" stroke="#7684ff" stroke-width="4" opacity="0.9"/>
<path d="M2197.0,984.0 L2199.0,987.0" stroke="#7684ff" stroke-width="4" opacity="0.9"/>
<path d="M2208.0,985.0 L2216.0,1003.0" stroke="#7684ff" stroke-width="4" opacity="0.9"/>
<path d="M2256.4,918.5 Q2268,932 2278,940 T2296,948" fill="none" stroke="#02289a" stroke-width="4" stroke-linecap="round"/>
<path d="M2258.4,916.5 Q2270,930 2280,938 T2298,946" fill="none" stroke="#1858f4" stroke-width="2" stroke-linecap="round" opacity="0.8"/>
<path d="M2225.8,955 Q2245,961 2260,975 T2277,1002" fill="none" stroke="#02289a" stroke-width="4" stroke-linecap="round"/>
<path d="M2227.8,953 Q2247,959 2262,973 T2279,1000" fill="none" stroke="#1858f4" stroke-width="2" stroke-linecap="round" opacity="0.8"/>
<path d="M2364.3,927.3 L2362.7,938.1 L2296.2,1013.6 Q2277.5,1034.9 2269.9,1054.9 L2243.3,1125.9 L2230.5,1138.1 L2230.5,1138.1 L2263.2,1055.0 Q2272.5,1031.6 2292.7,1008.6 Z" fill="#0a47e0"/>
<path d="M2338.4,926.0 L2344.5,914.9 L2273.2,995.9 Q2253.0,1018.7 2243.9,1041.4 L2211.6,1121.9 L2212.5,1112.0 L2245.9,1040.4 Q2255.4,1020.2 2273.6,999.5 Z" fill="#1a5dfa" />
<path d="M2344.5,914.9 L2364.3,927.3 L2292.7,1008.6 Q2272.5,1031.6 2263.2,1055.0 L2230.5,1138.1 L2211.6,1121.9 L2243.9,1041.4 Q2253.0,1018.7 2273.2,995.9 Z" fill="#0b4dec" />
<path d="M2410.7,956.3 L2409.1,963.8 L2340.4,1041.7 Q2321.1,1063.7 2313.4,1085.0 L2286.3,1160.3 L2276.9,1167.7 L2276.9,1167.7 L2308.9,1085.0 Q2317.9,1061.6 2338.3,1038.5 Z" fill="#0a47e0"/>
<path d="M2382.6,951.3 L2390.8,943.9 L2318.8,1025.7 Q2298.4,1048.7 2289.3,1071.9 L2256.7,1154.2 L2262.1,1139.4 L2289.6,1068.1 Q2297.4,1048.0 2316.1,1026.8 Z" fill="#1a5dfa" />
<path d="M2390.8,943.9 L2410.7,956.3 L2338.3,1038.5 Q2317.9,1061.6 2308.9,1085.0 L2276.9,1167.7 L2256.7,1154.2 L2289.3,1071.9 Q2298.4,1048.7 2318.8,1025.7 Z" fill="#0b4dec" />
<path d="M2435.6,981.2 L2433.9,987.8 L2368.5,1062.0 Q2350.1,1082.9 2342.0,1103.3 L2313.2,1175.7 L2305.8,1181.8 L2305.8,1181.8 L2338.3,1103.3 Q2347.5,1081.2 2366.9,1059.2 Z" fill="#0a47e0"/>
<path d="M2415.7,971.2 L2419.0,969.6 L2350.0,1047.9 Q2330.5,1070.0 2321.8,1092.8 L2291.0,1173.7 L2293.0,1166.3 L2321.4,1090.6 Q2329.4,1069.2 2348.3,1047.7 Z" fill="#1a5dfa" />
<path d="M2419.0,969.6 L2435.6,981.2 L2366.9,1059.2 Q2347.5,1081.2 2338.3,1103.3 L2305.8,1181.8 L2291.0,1173.7 L2321.8,1092.8 Q2330.5,1070.0 2350.0,1047.9 Z" fill="#0b4dec" />
<path d="M2463.7,999.4 L2462.1,1006.0 L2396.5,1080.4 Q2378.0,1101.4 2370.0,1121.6 L2341.5,1193.2 L2334.8,1199.3 L2334.8,1199.3 L2366.4,1121.6 Q2375.4,1099.7 2394.8,1077.6 Z" fill="#0a47e0"/>
<path d="M2442.2,990.3 L2445.5,987.8 L2376.8,1065.8 Q2357.4,1087.8 2349.2,1110.1 L2320.0,1189.2 L2321.3,1181.1 L2348.9,1108.0 Q2356.7,1087.3 2375.5,1066.0 Z" fill="#1a5dfa" />
<path d="M2445.5,987.8 L2463.7,999.4 L2394.8,1077.6 Q2375.4,1099.7 2366.4,1121.6 L2334.8,1199.3 L2320.0,1189.2 L2349.2,1110.1 Q2357.4,1087.8 2376.8,1065.8 Z" fill="#0b4dec" />
<path d="M2490.2,1015.9 L2489.4,1021.7 L2422.8,1097.3 Q2404.0,1118.6 2395.9,1139.2 L2367.0,1212.0 L2361.0,1216.8 L2361.0,1216.8 L2392.4,1138.8 Q2401.3,1116.8 2420.8,1094.6 Z" fill="#0a47e0"/>
<path d="M2468.7,1008.5 L2472.0,1006.0 L2403.6,1083.7 Q2384.3,1105.6 2376.2,1128.1 L2347.6,1208.0 L2349.6,1200.0 L2376.1,1126.0 Q2383.6,1105.1 2402.3,1083.9 Z" fill="#1a5dfa" />
<path d="M2472.0,1006.0 L2490.2,1015.9 L2420.8,1094.6 Q2401.3,1116.8 2392.4,1138.8 L2361.0,1216.8 L2347.6,1208.0 L2376.2,1128.1 Q2384.3,1105.6 2403.6,1083.7 Z" fill="#0b4dec" />
<path d="M2503.5,1019.3 L2522.6,1028.5 L2517.5,1056 L2403,1236.5 Q2388,1243 2374,1232.5 L2373.8,1232.3 L2411.6,1123.6 Z" fill="url(#gPlate)"/>
<path d="M2498.5,1023.4 L2503.5,1019.3 L2431.8,1100.7 Q2411.6,1123.6 2403.3,1147.5 L2373.8,1232.3 L2375.2,1218.8 L2402.9,1144.1 Q2410.7,1123.1 2430.0,1101.1 Z" fill="#1a5dfa" />
<ellipse cx="2462" cy="1131" rx="7.5" ry="25" transform="rotate(31 2462 1131)" fill="#0530b0"/>
<ellipse cx="2464.5" cy="1132.5" rx="4.5" ry="21" transform="rotate(31 2464.5 1132.5)" fill="#0a3fd0"/>
<ellipse cx="2281.5" cy="1039.0" rx="13" ry="3.2" transform="rotate(33 2281.5 1039.0)" fill="#6a78ff" opacity="0.55"/>
<ellipse cx="2332.9" cy="1072.0" rx="13" ry="3.2" transform="rotate(33 2332.9 1072.0)" fill="#6a78ff" opacity="0.55"/>
<ellipse cx="2362.7" cy="1089.0" rx="13" ry="3.2" transform="rotate(33 2362.7 1089.0)" fill="#6a78ff" opacity="0.55"/>
<ellipse cx="2392.5" cy="1112.0" rx="13" ry="3.2" transform="rotate(33 2392.5 1112.0)" fill="#6a78ff" opacity="0.55"/>
<ellipse cx="2419.0" cy="1128.6" rx="13" ry="3.2" transform="rotate(33 2419.0 1128.6)" fill="#6a78ff" opacity="0.55"/>
<circle cx="2394" cy="1082" r="2.3" fill="#cfd4f0"/>
</g>
<g transform="translate(-471.0 960.5)">
<path d="M1031.0,904.0 L2222.0,435.0 L2321.0,533.0 L2317.0,632.0 Q2316.0,654.0 2302.0,660.0 L1126.6,1134.8 L1036.0,1006.0 Z" fill="#c6c7f5"/>
<polygon points="1031.0,904.0 2222.0,435.0 2298.0,532.5 1104.0,1005.0" fill="#c7c8f7"/>
<polygon points="1060.0,906.0 2228.0,445.0 2240.0,459.0 1128.0,884.0" fill="#dbdcfc"/>
<polygon points="1031.0,904.0 2222.0,435.0 2228.0,445.0 1036.0,915.0" fill="#c3c4f4"/>
<polygon points="1104.0,1005.0 2298.0,532.5 2295.0,650.0 2290.0,664.0 1126.6,1134.8" fill="url(#gFront)"/>
<polygon points="1104.0,1005.0 2298.0,532.5 2297.0,560.0 1108.0,1030.0" fill="#c4c5f5"/>
<polyline points="1108.0,1030.0 2297.0,560.0" fill="none" stroke="#d6d7fb" stroke-width="2.5" opacity="0.9"/>
<polyline points="1104.0,1005.0 2298.0,532.5" fill="none" stroke="#dadbfc" stroke-width="2" opacity="0.9"/>
<polyline points="1124.0,1120.0 2296.0,636.0" fill="none" stroke="#d8d9fb" stroke-width="2.2" opacity="0.9"/>
<path d="M2298.0,532.5 L2321.0,533.0 L2317,632 Q2316,654 2302,660 L2295.0,650.0 Z" fill="#d2d3f9"/>
<polygon points="2222.0,435.0 2321.0,533.0 2298.0,532.5 2228.0,447.0" fill="#d6d7fa"/>
<polyline points="2298.0,532.5 2295.0,650.0" fill="none" stroke="#ececff" stroke-width="2.5"/>
<polyline points="2228.0,447.0 2298.0,532.5" fill="none" stroke="#e6e6ff" stroke-width="2"/>
<polygon points="1031.0,904.0 1067.0,890.0 1104.0,1005.0 1126.6,1134.8 1036.0,1006.0" fill="#d7d8fa"/>
<polygon points="1036.0,1006.0 1104.0,1005.0 1126.6,1134.8" fill="#dfe0fc"/>
<polygon points="1040.0,915.0 1063.0,903.0 1096.0,1000.0 1044.0,1004.0" fill="#d0d1f8"/>
<polyline points="1067.0,890.0 1104.0,1005.0 1126.6,1134.8" fill="none" stroke="#ececff" stroke-width="2.5"/>
<polyline points="1036.0,1006.0 1104.0,1005.0" fill="none" stroke="#e4e4fe" stroke-width="2"/>
<polygon points="1067.0,890.0 1128.0,868.0 1190.0,968.0 1104.0,1005.0" fill="#d6d7fa"/>
<polygon points="1150.0,1078.0 1236.0,1040.0 1240.0,1062.0 1156.0,1100.0" fill="#d4d5fa" opacity="0.9"/>
<polygon points="1170.0,1086.0 1186.0,1079.0 1188.0,1086.0 1172.0,1093.0" fill="#ebebff" opacity="0.9"/>
<polygon points="1198.0,1073.0 1216.0,1065.0 1218.0,1072.0 1200.0,1080.0" fill="#ebebff" opacity="0.9"/>
<polygon points="1031.0,904.0 1600.0,680.0 1700.0,900.0 1126.6,1134.8 1036.0,1006.0" fill="url(#gLeftLite)"/>
<polygon points="2184.4,475.8 2186.2,475.4 2188.1,475.4 2190.2,475.7 2192.2,476.4 2194.0,477.5 2195.5,478.7 2241.3,527.1 2242.4,528.6 2243.0,530.1 2243.1,531.7 2242.7,533.0 2241.8,534.2 2240.4,535.0 1198.6,966.2 1195.4,967.2 1192.1,967.5 1188.9,967.2 1185.9,966.2 1183.5,964.7 1181.8,962.8 1135.0,889.0 1134.1,886.7 1134.1,884.4 1134.9,882.0 1136.5,879.8 1138.7,878.0 1141.5,876.6" fill="#f6f6ff" />
<polygon points="1411.9,772.7 1712.5,657.2 1745.2,740.0 1439.6,866.5" fill="#ec7d10" />
<polygon points="1253.8,845.7 1290.1,891.8 1250.7,893.9 1230.0,866.4" fill="#0a55c4" />
<polygon points="1253.8,845.7 1288.0,843.6 1311.8,869.0 1290.1,891.8" fill="#ec7d10" />
<polygon points="1246.6,874.2 1264.8,867.0 1256.9,855.0 1266.5,851.2 1270.5,857.2 1278.9,853.9 1289.0,853.2 1295.9,863.4 1279.1,870.1 1287.1,882.1 1277.5,886.0 1272.3,878.2 1262.6,882.1 1252.3,882.9" fill="#f6f6ff" />
<g transform="matrix(1.2403 -0.5075 0.5806 0.8881 1253.20 926.06)"><circle r="6" fill="#0a55c4"/><path d="M-2.5,-2.5L2.5,2.5M2.5,-2.5L-2.5,2.5" stroke="#fff" stroke-width="1.8"/></g>
<text transform="matrix(1.21108 -0.49564 0.58202 0.87431 1266.74 926.13)" font-size="13.60" fill="#0a55c4" font-weight="bold" font-style="italic" letter-spacing="0.60" text-anchor="start" >PHONEFIX</text>
<text transform="matrix(1.01778 -0.39993 0.57538 0.76534 1466.89 795.74)" font-size="38.50" fill="#fff" font-weight="normal" font-style="normal" letter-spacing="0.00" text-anchor="start" >C245 Series</text>
<polyline points="1476.7,803.9 1685.0,721.6" fill="none" stroke="#fff" stroke-width="1.80" />
<text transform="matrix(1.03196 -0.41730 0.58305 0.78257 1490.39 820.60)" font-size="22.60" fill="#fff" font-weight="normal" font-style="normal" letter-spacing="1.15" text-anchor="start" >SOLDERING TIPS</text>
<text transform="matrix(0.88851 -0.35011 0.57392 0.70194 1760.70 678.18)" font-size="25.00" fill="#0a55c4" font-weight="normal" font-style="normal" letter-spacing="0.00" text-anchor="start" >C245-IS</text>
<text transform="matrix(0.89012 -0.35945 0.58013 0.71059 1775.72 703.58)" font-size="25.00" fill="#0a55c4" font-weight="normal" font-style="normal" letter-spacing="0.00" text-anchor="start" >C245-SK</text>
<text transform="matrix(0.81825 -0.32242 0.57040 0.66588 1896.73 624.23)" font-size="25.00" fill="#0a55c4" font-weight="normal" font-style="normal" letter-spacing="0.00" text-anchor="start" >C245-I</text>
<text transform="matrix(0.82040 -0.33142 0.57652 0.67443 1910.18 649.39)" font-size="25.00" fill="#0a55c4" font-weight="normal" font-style="normal" letter-spacing="0.00" text-anchor="start" >C245-K</text>
<polygon points="1843.5,624.2 1864.3,616.1 1876.6,630.7 1855.7,638.9" fill="none" stroke="#e8861c" stroke-width="2.3"/>
<polygon points="1959.6,579.4 1978.9,571.8 1991.1,585.8 1971.8,593.4" fill="none" stroke="#e8861c" stroke-width="2.3"/>
<polygon points="1865.6,646.2 1886.4,637.9 1898.8,652.6 1878.0,661.1" fill="none" stroke="#e8861c" stroke-width="2.3"/>
<polygon points="1981.2,601.1 2000.5,593.4 2012.8,607.5 1993.5,615.3" fill="none" stroke="#e8861c" stroke-width="2.3"/>
<polygon points="1873.7,648.5 1875.7,645.4 1881.5,650.9 1905.8,625.1 1907.1,626.0 1884.5,656.6 1882.5,656.9" fill="#e60f1c"/>
<text transform="matrix(0.71704 -0.27895 0.55904 0.60896 2006.00 564.02)" font-size="18.40" fill="#a9abc6" font-weight="normal" font-style="normal" letter-spacing="0.00" text-anchor="start" >The is lead-free soldering tip,</text>
<text transform="matrix(0.73665 -0.29176 0.56504 0.62425 2016.53 580.63)" font-size="18.20" fill="#a9abc6" font-weight="normal" font-style="normal" letter-spacing="0.00" text-anchor="start" >Comply with the Rohs</text>
<text transform="matrix(0.75546 -0.30876 0.57411 0.64316 2043.00 604.66)" font-size="10.20" fill="#a9abc6" font-weight="normal" font-style="normal" letter-spacing="0.00" text-anchor="start" >Made in China</text>
<g transform="matrix(0.76805 -0.30895 0.57152 0.64540 2031.34 587.36)" stroke="#a9abc6" stroke-width="1.3" fill="none"><path d="M1,2H11M1,6H11M1,10H11M6,0V12M2,2V10M10,2V10"/></g>
<g transform="matrix(0.76205 -0.30653 0.57099 0.64218 2042.82 582.75)" stroke="#a9abc6" stroke-width="1.3" fill="none"><path d="M1,2H11M1,6H11M1,10H11M6,0V12M2,2V10M10,2V10"/></g>
<g transform="matrix(0.75611 -0.30415 0.57045 0.63900 2054.21 578.17)" stroke="#a9abc6" stroke-width="1.3" fill="none"><path d="M1,2H11M1,6H11M1,10H11M6,0V12M2,2V10M10,2V10"/></g>
<g transform="matrix(0.75024 -0.30179 0.56990 0.63584 2065.51 573.62)" stroke="#a9abc6" stroke-width="1.3" fill="none"><path d="M1,2H11M1,6H11M1,10H11M6,0V12M2,2V10M10,2V10"/></g>
<g transform="matrix(0.74120 -0.29804 0.56894 0.63086 2082.75 566.26)" stroke="#8f91b0" stroke-width="3" fill="none"><path d="M15,1.5A10.5,10.5 0 1 0 15,22.5"/><path d="M37,1.5A10.5,10.5 0 1 0 37,22.5M26.5,12H35"/></g>
<g transform="matrix(0.71960 -0.29199 0.56877 0.62159 2130.96 557.23)" fill="none" stroke="#8f91b0" stroke-width="4.2" stroke-dasharray="10.5 5.2"><circle r="8.3"/></g>
<g transform="matrix(0.70548 -0.28558 0.56664 0.61320 2157.29 543.84)" stroke="#8f91b0" stroke-width="1.6" fill="none"><path d="M-7,-12L7,9M7,-12L-7,9M-6,-8H6L4.5,6H-4.5Z"/><path d="M-8,13H8" stroke-width="3.4"/></g>
<g transform="translate(2122.0 920.0) rotate(33.15)">
<path d="M-808.2,-12.1 C-806.1,-11.2 -801.6,-6.7 -795.4,-6.6 C-789.1,-6.5 -778.2,-8.0 -770.8,-11.5 C-763.3,-15.0 -753.9,-25.0 -750.5,-27.8 L-750.5,27.8 L-750.5,27.8 C-754.1,26.0 -764.4,18.9 -772.3,17.3 C-780.2,15.7 -793.5,18.0 -797.7,18.2 Z" fill="url(#gCone)"/>
<polygon points="-880.6,14.8 -872.2,9.8 -798.2,17.5 -798.2,21.6" fill="#8d8d95"/>
<polygon points="-894.8,-14.0 -808.2,-12.1 -794.5,-5.3 -798.2,17.5 -872.2,9.8" fill="#fbfbfd"/>
<polygon points="-912.6,-14.4 -894.8,-14.0 -872.2,9.8 -880.6,14.8" fill="#8a8a90"/>
<polyline points="-894.8,-14.0 -808.2,-12.1" fill="none" stroke="#9a9aa2" stroke-width="1.2"/>
<rect x="-4" y="-14" width="40" height="29" fill="#1c1c1e"/>
<path d="M-606.7,-19.0 L-9,-21.0 Q3,-19.0 3,0 Q3,19.0 -9,21.0 L-606.7,19.0 Z" fill="url(#gRod)"/>
<path d="M-14,-21.0 Q-2,-18.0 -1,0 Q-2,18.0 -14,21.0" fill="none" stroke="#555" stroke-width="1.5" opacity="0.5"/>
<path d="M-751.5,-27.8 L-604.7,-27.8 Q-595.7,0 -604.7,27.8 L-751.5,27.8 Q-756.5,0 -751.5,-27.8 Z" fill="url(#gSlv)"/>
<path d="M-604.7,-27.8 Q-595.7,0 -604.7,27.8" fill="none" stroke="#4a4a52" stroke-width="2.2" opacity="0.75"/>
</g>
<polygon points="2356.0,934.0 2500.0,1024.5 2412.3,1124.1 2377.0,1220.0 2232.0,1119.0 2270.9,1030.6" fill="#0439c4"/>
<path d="M2205.9,852.3 Q2217.6,853.6 2224.8,862.8 Q2236.5,864.1 2243.8,873.4 Q2255.4,874.6 2262.7,883.9 Q2274.3,885.1 2281.6,894.4 Q2293.3,895.7 2300.5,904.9 Q2312.2,906.2 2319.5,915.5 Q2331.1,916.7 2338.4,926.0 L2255.4,1020.2 L2130.5,937.6 Z" fill="#0340d0"/>
<path d="M2130.5,937.6 L2255.4,1020.2 L2212.5,1112.0 Q2197.6,1105.9 2189.6,1093.8 Q2174.7,1087.8 2166.8,1075.7 Q2151.8,1069.6 2143.9,1057.5 Q2129.0,1051.4 2121.1,1039.4 Q2106.1,1033.3 2098.2,1021.2 Z" fill="url(#gHFront)"/>
<path d="M2133.5,939.6 L2255.4,1020.2" stroke="#5e70fa" stroke-width="3" opacity="0.75" stroke-linecap="round"/>
<path d="M2162.0,952.0 L2166.0,966.0" stroke="#7684ff" stroke-width="4" opacity="0.9"/>
<path d="M2173.0,968.0 L2175.0,972.0" stroke="#7684ff" stroke-width="4" opacity="0.9"/>
<path d="M2184.0,970.0 L2189.0,986.0" stroke="#7684ff" stroke-width="4" opacity="0.9"/>
<path d="M2197.0,984.0 L2199.0,987.0" stroke="#7684ff" stroke-width="4" opacity="0.9"/>
<path d="M2208.0,985.0 L2216.0,1003.0" stroke="#7684ff" stroke-width="4" opacity="0.9"/>
<path d="M2256.4,918.5 Q2268,932 2278,940 T2296,948" fill="none" stroke="#02289a" stroke-width="4" stroke-linecap="round"/>
<path d="M2258.4,916.5 Q2270,930 2280,938 T2298,946" fill="none" stroke="#1858f4" stroke-width="2" stroke-linecap="round" opacity="0.8"/>
<path d="M2225.8,955 Q2245,961 2260,975 T2277,1002" fill="none" stroke="#02289a" stroke-width="4" stroke-linecap="round"/>
<path d="M2227.8,953 Q2247,959 2262,973 T2279,1000" fill="none" stroke="#1858f4" stroke-width="2" stroke-linecap="round" opacity="0.8"/>
<path d="M2364.3,927.3 L2362.7,938.1 L2296.2,1013.6 Q2277.5,1034.9 2269.9,1054.9 L2243.3,1125.9 L2230.5,1138.1 L2230.5,1138.1 L2263.2,1055.0 Q2272.5,1031.6 2292.7,1008.6 Z" fill="#0a47e0"/>
<path d="M2338.4,926.0 L2344.5,914.9 L2273.2,995.9 Q2253.0,1018.7 2243.9,1041.4 L2211.6,1121.9 L2212.5,1112.0 L2245.9,1040.4 Q2255.4,1020.2 2273.6,999.5 Z" fill="#1a5dfa" />
<path d="M2344.5,914.9 L2364.3,927.3 L2292.7,1008.6 Q2272.5,1031.6 2263.2,1055.0 L2230.5,1138.1 L2211.6,1121.9 L2243.9,1041.4 Q2253.0,1018.7 2273.2,995.9 Z" fill="#0b4dec" />
<path d="M2410.7,956.3 L2409.1,963.8 L2340.4,1041.7 Q2321.1,1063.7 2313.4,1085.0 L2286.3,1160.3 L2276.9,1167.7 L2276.9,1167.7 L2308.9,1085.0 Q2317.9,1061.6 2338.3,1038.5 Z" fill="#0a47e0"/>
<path d="M2382.6,951.3 L2390.8,943.9 L2318.8,1025.7 Q2298.4,1048.7 2289.3,1071.9 L2256.7,1154.2 L2262.1,1139.4 L2289.6,1068.1 Q2297.4,1048.0 2316.1,1026.8 Z" fill="#1a5dfa" />
<path d="M2390.8,943.9 L2410.7,956.3 L2338.3,1038.5 Q2317.9,1061.6 2308.9,1085.0 L2276.9,1167.7 L2256.7,1154.2 L2289.3,1071.9 Q2298.4,1048.7 2318.8,1025.7 Z" fill="#0b4dec" />
<path d="M2435.6,981.2 L2433.9,987.8 L2368.5,1062.0 Q2350.1,1082.9 2342.0,1103.3 L2313.2,1175.7 L2305.8,1181.8 L2305.8,1181.8 L2338.3,1103.3 Q2347.5,1081.2 2366.9,1059.2 Z" fill="#0a47e0"/>
<path d="M2415.7,971.2 L2419.0,969.6 L2350.0,1047.9 Q2330.5,1070.0 2321.8,1092.8 L2291.0,1173.7 L2293.0,1166.3 L2321.4,1090.6 Q2329.4,1069.2 2348.3,1047.7 Z" fill="#1a5dfa" />
<path d="M2419.0,969.6 L2435.6,981.2 L2366.9,1059.2 Q2347.5,1081.2 2338.3,1103.3 L2305.8,1181.8 L2291.0,1173.7 L2321.8,1092.8 Q2330.5,1070.0 2350.0,1047.9 Z" fill="#0b4dec" />
<path d="M2463.7,999.4 L2462.1,1006.0 L2396.5,1080.4 Q2378.0,1101.4 2370.0,1121.6 L2341.5,1193.2 L2334.8,1199.3 L2334.8,1199.3 L2366.4,1121.6 Q2375.4,1099.7 2394.8,1077.6 Z" fill="#0a47e0"/>
<path d="M2442.2,990.3 L2445.5,987.8 L2376.8,1065.8 Q2357.4,1087.8 2349.2,1110.1 L2320.0,1189.2 L2321.3,1181.1 L2348.9,1108.0 Q2356.7,1087.3 2375.5,1066.0 Z" fill="#1a5dfa" />
<path d="M2445.5,987.8 L2463.7,999.4 L2394.8,1077.6 Q2375.4,1099.7 2366.4,1121.6 L2334.8,1199.3 L2320.0,1189.2 L2349.2,1110.1 Q2357.4,1087.8 2376.8,1065.8 Z" fill="#0b4dec" />
<path d="M2490.2,1015.9 L2489.4,1021.7 L2422.8,1097.3 Q2404.0,1118.6 2395.9,1139.2 L2367.0,1212.0 L2361.0,1216.8 L2361.0,1216.8 L2392.4,1138.8 Q2401.3,1116.8 2420.8,1094.6 Z" fill="#0a47e0"/>
<path d="M2468.7,1008.5 L2472.0,1006.0 L2403.6,1083.7 Q2384.3,1105.6 2376.2,1128.1 L2347.6,1208.0 L2349.6,1200.0 L2376.1,1126.0 Q2383.6,1105.1 2402.3,1083.9 Z" fill="#1a5dfa" />
<path d="M2472.0,1006.0 L2490.2,1015.9 L2420.8,1094.6 Q2401.3,1116.8 2392.4,1138.8 L2361.0,1216.8 L2347.6,1208.0 L2376.2,1128.1 Q2384.3,1105.6 2403.6,1083.7 Z" fill="#0b4dec" />
<path d="M2503.5,1019.3 L2522.6,1028.5 L2517.5,1056 L2403,1236.5 Q2388,1243 2374,1232.5 L2373.8,1232.3 L2411.6,1123.6 Z" fill="url(#gPlate)"/>
<path d="M2498.5,1023.4 L2503.5,1019.3 L2431.8,1100.7 Q2411.6,1123.6 2403.3,1147.5 L2373.8,1232.3 L2375.2,1218.8 L2402.9,1144.1 Q2410.7,1123.1 2430.0,1101.1 Z" fill="#1a5dfa" />
<ellipse cx="2462" cy="1131" rx="7.5" ry="25" transform="rotate(31 2462 1131)" fill="#0530b0"/>
<ellipse cx="2464.5" cy="1132.5" rx="4.5" ry="21" transform="rotate(31 2464.5 1132.5)" fill="#0a3fd0"/>
<ellipse cx="2281.5" cy="1039.0" rx="13" ry="3.2" transform="rotate(33 2281.5 1039.0)" fill="#6a78ff" opacity="0.55"/>
<ellipse cx="2332.9" cy="1072.0" rx="13" ry="3.2" transform="rotate(33 2332.9 1072.0)" fill="#6a78ff" opacity="0.55"/>
<ellipse cx="2362.7" cy="1089.0" rx="13" ry="3.2" transform="rotate(33 2362.7 1089.0)" fill="#6a78ff" opacity="0.55"/>
<ellipse cx="2392.5" cy="1112.0" rx="13" ry="3.2" transform="rotate(33 2392.5 1112.0)" fill="#6a78ff" opacity="0.55"/>
<ellipse cx="2419.0" cy="1128.6" rx="13" ry="3.2" transform="rotate(33 2419.0 1128.6)" fill="#6a78ff" opacity="0.55"/>
<circle cx="2394" cy="1082" r="2.3" fill="#cfd4f0"/>
</g>
<g transform="translate(-707.0 1450.0)">
<path d="M1031.0,904.0 L2222.0,435.0 L2321.0,533.0 L2317.0,632.0 Q2316.0,654.0 2302.0,660.0 L1126.6,1134.8 L1036.0,1006.0 Z" fill="#c6c7f5"/>
<polygon points="1031.0,904.0 2222.0,435.0 2298.0,532.5 1104.0,1005.0" fill="#c7c8f7"/>
<polygon points="1060.0,906.0 2228.0,445.0 2240.0,459.0 1128.0,884.0" fill="#dbdcfc"/>
<polygon points="1031.0,904.0 2222.0,435.0 2228.0,445.0 1036.0,915.0" fill="#c3c4f4"/>
<polygon points="1104.0,1005.0 2298.0,532.5 2295.0,650.0 2290.0,664.0 1126.6,1134.8" fill="url(#gFront)"/>
<polygon points="1104.0,1005.0 2298.0,532.5 2297.0,560.0 1108.0,1030.0" fill="#c4c5f5"/>
<polyline points="1108.0,1030.0 2297.0,560.0" fill="none" stroke="#d6d7fb" stroke-width="2.5" opacity="0.9"/>
<polyline points="1104.0,1005.0 2298.0,532.5" fill="none" stroke="#dadbfc" stroke-width="2" opacity="0.9"/>
<polyline points="1124.0,1120.0 2296.0,636.0" fill="none" stroke="#d8d9fb" stroke-width="2.2" opacity="0.9"/>
<path d="M2298.0,532.5 L2321.0,533.0 L2317,632 Q2316,654 2302,660 L2295.0,650.0 Z" fill="#d2d3f9"/>
<polygon points="2222.0,435.0 2321.0,533.0 2298.0,532.5 2228.0,447.0" fill="#d6d7fa"/>
<polyline points="2298.0,532.5 2295.0,650.0" fill="none" stroke="#ececff" stroke-width="2.5"/>
<polyline points="2228.0,447.0 2298.0,532.5" fill="none" stroke="#e6e6ff" stroke-width="2"/>
<polygon points="1031.0,904.0 1067.0,890.0 1104.0,1005.0 1126.6,1134.8 1036.0,1006.0" fill="#d7d8fa"/>
<polygon points="1036.0,1006.0 1104.0,1005.0 1126.6,1134.8" fill="#dfe0fc"/>
<polygon points="1040.0,915.0 1063.0,903.0 1096.0,1000.0 1044.0,1004.0" fill="#d0d1f8"/>
<polyline points="1067.0,890.0 1104.0,1005.0 1126.6,1134.8" fill="none" stroke="#ececff" stroke-width="2.5"/>
<polyline points="1036.0,1006.0 1104.0,1005.0" fill="none" stroke="#e4e4fe" stroke-width="2"/>
<polygon points="1067.0,890.0 1128.0,868.0 1190.0,968.0 1104.0,1005.0" fill="#d6d7fa"/>
<polygon points="1150.0,1078.0 1236.0,1040.0 1240.0,1062.0 1156.0,1100.0" fill="#d4d5fa" opacity="0.9"/>
<polygon points="1170.0,1086.0 1186.0,1079.0 1188.0,1086.0 1172.0,1093.0" fill="#ebebff" opacity="0.9"/>
<polygon points="1198.0,1073.0 1216.0,1065.0 1218.0,1072.0 1200.0,1080.0" fill="#ebebff" opacity="0.9"/>
<polygon points="1031.0,904.0 1600.0,680.0 1700.0,900.0 1126.6,1134.8 1036.0,1006.0" fill="url(#gLeftLite)"/>
<polygon points="2184.4,475.8 2186.2,475.4 2188.1,475.4 2190.2,475.7 2192.2,476.4 2194.0,477.5 2195.5,478.7 2241.3,527.1 2242.4,528.6 2243.0,530.1 2243.1,531.7 2242.7,533.0 2241.8,534.2 2240.4,535.0 1198.6,966.2 1195.4,967.2 1192.1,967.5 1188.9,967.2 1185.9,966.2 1183.5,964.7 1181.8,962.8 1135.0,889.0 1134.1,886.7 1134.1,884.4 1134.9,882.0 1136.5,879.8 1138.7,878.0 1141.5,876.6" fill="#f6f6ff" />
<polygon points="1411.9,772.7 1712.5,657.2 1745.2,740.0 1439.6,866.5" fill="#ec7d10" />
<polygon points="1253.8,845.7 1290.1,891.8 1250.7,893.9 1230.0,866.4" fill="#0a55c4" />
<polygon points="1253.8,845.7 1288.0,843.6 1311.8,869.0 1290.1,891.8" fill="#ec7d10" />
<polygon points="1246.6,874.2 1264.8,867.0 1256.9,855.0 1266.5,851.2 1270.5,857.2 1278.9,853.9 1289.0,853.2 1295.9,863.4 1279.1,870.1 1287.1,882.1 1277.5,886.0 1272.3,878.2 1262.6,882.1 1252.3,882.9" fill="#f6f6ff" />
<g transform="matrix(1.2403 -0.5075 0.5806 0.8881 1253.20 926.06)"><circle r="6" fill="#0a55c4"/><path d="M-2.5,-2.5L2.5,2.5M2.5,-2.5L-2.5,2.5" stroke="#fff" stroke-width="1.8"/></g>
<text transform="matrix(1.21108 -0.49564 0.58202 0.87431 1266.74 926.13)" font-size="13.60" fill="#0a55c4" font-weight="bold" font-style="italic" letter-spacing="0.60" text-anchor="start" >PHONEFIX</text>
<text transform="matrix(1.01778 -0.39993 0.57538 0.76534 1466.89 795.74)" font-size="38.50" fill="#fff" font-weight="normal" font-style="normal" letter-spacing="0.00" text-anchor="start" >C245 Series</text>
<polyline points="1476.7,803.9 1685.0,721.6" fill="none" stroke="#fff" stroke-width="1.80" />
<text transform="matrix(1.03196 -0.41730 0.58305 0.78257 1490.39 820.60)" font-size="22.60" fill="#fff" font-weight="normal" font-style="normal" letter-spacing="1.15" text-anchor="start" >SOLDERING TIPS</text>
<text transform="matrix(0.88851 -0.35011 0.57392 0.70194 1760.70 678.18)" font-size="25.00" fill="#0a55c4" font-weight="normal" font-style="normal" letter-spacing="0.00" text-anchor="start" >C245-IS</text>
<text transform="matrix(0.89012 -0.35945 0.58013 0.71059 1775.72 703.58)" font-size="25.00" fill="#0a55c4" font-weight="normal" font-style="normal" letter-spacing="0.00" text-anchor="start" >C245-SK</text>
<text transform="matrix(0.81825 -0.32242 0.57040 0.66588 1896.73 624.23)" font-size="25.00" fill="#0a55c4" font-weight="normal" font-style="normal" letter-spacing="0.00" text-anchor="start" >C245-I</text>
<text transform="matrix(0.82040 -0.33142 0.57652 0.67443 1910.18 649.39)" font-size="25.00" fill="#0a55c4" font-weight="normal" font-style="normal" letter-spacing="0.00" text-anchor="start" >C245-K</text>
<polygon points="1843.5,624.2 1864.3,616.1 1876.6,630.7 1855.7,638.9" fill="none" stroke="#e8861c" stroke-width="2.3"/>
<polygon points="1959.6,579.4 1978.9,571.8 1991.1,585.8 1971.8,593.4" fill="none" stroke="#e8861c" stroke-width="2.3"/>
<polygon points="1865.6,646.2 1886.4,637.9 1898.8,652.6 1878.0,661.1" fill="none" stroke="#e8861c" stroke-width="2.3"/>
<polygon points="1981.2,601.1 2000.5,593.4 2012.8,607.5 1993.5,615.3" fill="none" stroke="#e8861c" stroke-width="2.3"/>
<polygon points="1989.0,603.3 1990.7,600.4 1996.4,605.7 2018.3,581.5 2019.6,582.3 1999.5,611.1 1997.6,611.4" fill="#e60f1c"/>
<text transform="matrix(0.71704 -0.27895 0.55904 0.60896 2006.00 564.02)" font-size="18.40" fill="#a9abc6" font-weight="normal" font-style="normal" letter-spacing="0.00" text-anchor="start" >The is lead-free soldering tip,</text>
<text transform="matrix(0.73665 -0.29176 0.56504 0.62425 2016.53 580.63)" font-size="18.20" fill="#a9abc6" font-weight="normal" font-style="normal" letter-spacing="0.00" text-anchor="start" >Comply with the Rohs</text>
<text transform="matrix(0.75546 -0.30876 0.57411 0.64316 2043.00 604.66)" font-size="10.20" fill="#a9abc6" font-weight="normal" font-style="normal" letter-spacing="0.00" text-anchor="start" >Made in China</text>
<g transform="matrix(0.76805 -0.30895 0.57152 0.64540 2031.34 587.36)" stroke="#a9abc6" stroke-width="1.3" fill="none"><path d="M1,2H11M1,6H11M1,10H11M6,0V12M2,2V10M10,2V10"/></g>
<g transform="matrix(0.76205 -0.30653 0.57099 0.64218 2042.82 582.75)" stroke="#a9abc6" stroke-width="1.3" fill="none"><path d="M1,2H11M1,6H11M1,10H11M6,0V12M2,2V10M10,2V10"/></g>
<g transform="matrix(0.75611 -0.30415 0.57045 0.63900 2054.21 578.17)" stroke="#a9abc6" stroke-width="1.3" fill="none"><path d="M1,2H11M1,6H11M1,10H11M6,0V12M2,2V10M10,2V10"/></g>
<g transform="matrix(0.75024 -0.30179 0.56990 0.63584 2065.51 573.62)" stroke="#a9abc6" stroke-width="1.3" fill="none"><path d="M1,2H11M1,6H11M1,10H11M6,0V12M2,2V10M10,2V10"/></g>
<g transform="matrix(0.74120 -0.29804 0.56894 0.63086 2082.75 566.26)" stroke="#8f91b0" stroke-width="3" fill="none"><path d="M15,1.5A10.5,10.5 0 1 0 15,22.5"/><path d="M37,1.5A10.5,10.5 0 1 0 37,22.5M26.5,12H35"/></g>
<g transform="matrix(0.71960 -0.29199 0.56877 0.62159 2130.96 557.23)" fill="none" stroke="#8f91b0" stroke-width="4.2" stroke-dasharray="10.5 5.2"><circle r="8.3"/></g>
<g transform="matrix(0.70548 -0.28558 0.56664 0.61320 2157.29 543.84)" stroke="#8f91b0" stroke-width="1.6" fill="none"><path d="M-7,-12L7,9M7,-12L-7,9M-6,-8H6L4.5,6H-4.5Z"/><path d="M-8,13H8" stroke-width="3.4"/></g>
<g transform="translate(2122.0 920.0) rotate(33.00)">
<polygon points="-843.2,-23.2 -808.3,-29.8 -808.3,29.8 -811.3,32.8 -831.3,15.7 -822.7,-12.1" fill="url(#gCone)"/>
<polygon points="-920.6,30.4 -905.7,17.4 -831.3,15.7 -808.7,30.0 -810.8,33.5" fill="#85858d"/>
<polygon points="-945.3,-24.7 -843.2,-23.2 -822.7,-12.1 -831.3,15.7 -905.7,17.4" fill="#fbfbfd"/>
<polygon points="-975.8,-23.1 -945.3,-24.7 -905.7,17.4 -920.6,30.4" fill="#85858b"/>
<polyline points="-945.3,-24.7 -843.2,-23.2" fill="none" stroke="#9a9aa2" stroke-width="1.2"/>
<rect x="-4" y="-14" width="40" height="29" fill="#1c1c1e"/>
<path d="M-653.8,-19.5 L-9,-21.0 Q3,-19.0 3,0 Q3,19.0 -9,21.0 L-653.8,19.5 Z" fill="url(#gRod)"/>
<path d="M-14,-21.0 Q-2,-18.0 -1,0 Q-2,18.0 -14,21.0" fill="none" stroke="#555" stroke-width="1.5" opacity="0.5"/>
<path d="M-809.3,-29.8 L-651.8,-29.8 Q-642.8,0 -651.8,29.8 L-809.3,29.8 Q-814.3,0 -809.3,-29.8 Z" fill="url(#gSlv)"/>
<path d="M-651.8,-29.8 Q-642.8,0 -651.8,29.8" fill="none" stroke="#4a4a52" stroke-width="2.2" opacity="0.75"/>
</g>
<polygon points="2356.0,934.0 2500.0,1024.5 2412.3,1124.1 2377.0,1220.0 2232.0,1119.0 2270.9,1030.6" fill="#0439c4"/>
<path d="M2205.9,852.3 Q2217.6,853.6 2224.8,862.8 Q2236.5,864.1 2243.8,873.4 Q2255.4,874.6 2262.7,883.9 Q2274.3,885.1 2281.6,894.4 Q2293.3,895.7 2300.5,904.9 Q2312.2,906.2 2319.5,915.5 Q2331.1,916.7 2338.4,926.0 L2255.4,1020.2 L2130.5,937.6 Z" fill="#0340d0"/>
<path d="M2130.5,937.6 L2255.4,1020.2 L2212.5,1112.0 Q2197.6,1105.9 2189.6,1093.8 Q2174.7,1087.8 2166.8,1075.7 Q2151.8,1069.6 2143.9,1057.5 Q2129.0,1051.4 2121.1,1039.4 Q2106.1,1033.3 2098.2,1021.2 Z" fill="url(#gHFront)"/>
<path d="M2133.5,939.6 L2255.4,1020.2" stroke="#5e70fa" stroke-width="3" opacity="0.75" stroke-linecap="round"/>
<path d="M2162.0,952.0 L2166.0,966.0" stroke="#7684ff" stroke-width="4" opacity="0.9"/>
<path d="M2173.0,968.0 L2175.0,972.0" stroke="#7684ff" stroke-width="4" opacity="0.9"/>
<path d="M2184.0,970.0 L2189.0,986.0" stroke="#7684ff" stroke-width="4" opacity="0.9"/>
<path d="M2197.0,984.0 L2199.0,987.0" stroke="#7684ff" stroke-width="4" opacity="0.9"/>
<path d="M2208.0,985.0 L2216.0,1003.0" stroke="#7684ff" stroke-width="4" opacity="0.9"/>
<path d="M2256.4,918.5 Q2268,932 2278,940 T2296,948" fill="none" stroke="#02289a" stroke-width="4" stroke-linecap="round"/>
<path d="M2258.4,916.5 Q2270,930 2280,938 T2298,946" fill="none" stroke="#1858f4" stroke-width="2" stroke-linecap="round" opacity="0.8"/>
<path d="M2225.8,955 Q2245,961 2260,975 T2277,1002" fill="none" stroke="#02289a" stroke-width="4" stroke-linecap="round"/>
<path d="M2227.8,953 Q2247,959 2262,973 T2279,1000" fill="none" stroke="#1858f4" stroke-width="2" stroke-linecap="round" opacity="0.8"/>
<path d="M2364.3,927.3 L2362.7,938.1 L2296.2,1013.6 Q2277.5,1034.9 2269.9,1054.9 L2243.3,1125.9 L2230.5,1138.1 L2230.5,1138.1 L2263.2,1055.0 Q2272.5,1031.6 2292.7,1008.6 Z" fill="#0a47e0"/>
<path d="M2338.4,926.0 L2344.5,914.9 L2273.2,995.9 Q2253.0,1018.7 2243.9,1041.4 L2211.6,1121.9 L2212.5,1112.0 L2245.9,1040.4 Q2255.4,1020.2 2273.6,999.5 Z" fill="#1a5dfa" />
<path d="M2344.5,914.9 L2364.3,927.3 L2292.7,1008.6 Q2272.5,1031.6 2263.2,1055.0 L2230.5,1138.1 L2211.6,1121.9 L2243.9,1041.4 Q2253.0,1018.7 2273.2,995.9 Z" fill="#0b4dec" />
<path d="M2410.7,956.3 L2409.1,963.8 L2340.4,1041.7 Q2321.1,1063.7 2313.4,1085.0 L2286.3,1160.3 L2276.9,1167.7 L2276.9,1167.7 L2308.9,1085.0 Q2317.9,1061.6 2338.3,1038.5 Z" fill="#0a47e0"/>
<path d="M2382.6,951.3 L2390.8,943.9 L2318.8,1025.7 Q2298.4,1048.7 2289.3,1071.9 L2256.7,1154.2 L2262.1,1139.4 L2289.6,1068.1 Q2297.4,1048.0 2316.1,1026.8 Z" fill="#1a5dfa" />
<path d="M2390.8,943.9 L2410.7,956.3 L2338.3,1038.5 Q2317.9,1061.6 2308.9,1085.0 L2276.9,1167.7 L2256.7,1154.2 L2289.3,1071.9 Q2298.4,1048.7 2318.8,1025.7 Z" fill="#0b4dec" />
<path d="M2435.6,981.2 L2433.9,987.8 L2368.5,1062.0 Q2350.1,1082.9 2342.0,1103.3 L2313.2,1175.7 L2305.8,1181.8 L2305.8,1181.8 L2338.3,1103.3 Q2347.5,1081.2 2366.9,1059.2 Z" fill="#0a47e0"/>
<path d="M2415.7,971.2 L2419.0,969.6 L2350.0,1047.9 Q2330.5,1070.0 2321.8,1092.8 L2291.0,1173.7 L2293.0,1166.3 L2321.4,1090.6 Q2329.4,1069.2 2348.3,1047.7 Z" fill="#1a5dfa" />
<path d="M2419.0,969.6 L2435.6,981.2 L2366.9,1059.2 Q2347.5,1081.2 2338.3,1103.3 L2305.8,1181.8 L2291.0,1173.7 L2321.8,1092.8 Q2330.5,1070.0 2350.0,1047.9 Z" fill="#0b4dec" />
<path d="M2463.7,999.4 L2462.1,1006.0 L2396.5,1080.4 Q2378.0,1101.4 2370.0,1121.6 L2341.5,1193.2 L2334.8,1199.3 L2334.8,1199.3 L2366.4,1121.6 Q2375.4,1099.7 2394.8,1077.6 Z" fill="#0a47e0"/>
<path d="M2442.2,990.3 L2445.5,987.8 L2376.8,1065.8 Q2357.4,1087.8 2349.2,1110.1 L2320.0,1189.2 L2321.3,1181.1 L2348.9,1108.0 Q2356.7,1087.3 2375.5,1066.0 Z" fill="#1a5dfa" />
<path d="M2445.5,987.8 L2463.7,999.4 L2394.8,1077.6 Q2375.4,1099.7 2366.4,1121.6 L2334.8,1199.3 L2320.0,1189.2 L2349.2,1110.1 Q2357.4,1087.8 2376.8,1065.8 Z" fill="#0b4dec" />
<path d="M2490.2,1015.9 L2489.4,1021.7 L2422.8,1097.3 Q2404.0,1118.6 2395.9,1139.2 L2367.0,1212.0 L2361.0,1216.8 L2361.0,1216.8 L2392.4,1138.8 Q2401.3,1116.8 2420.8,1094.6 Z" fill="#0a47e0"/>
<path d="M2468.7,1008.5 L2472.0,1006.0 L2403.6,1083.7 Q2384.3,1105.6 2376.2,1128.1 L2347.6,1208.0 L2349.6,1200.0 L2376.1,1126.0 Q2383.6,1105.1 2402.3,1083.9 Z" fill="#1a5dfa" />
<path d="M2472.0,1006.0 L2490.2,1015.9 L2420.8,1094.6 Q2401.3,1116.8 2392.4,1138.8 L2361.0,1216.8 L2347.6,1208.0 L2376.2,1128.1 Q2384.3,1105.6 2403.6,1083.7 Z" fill="#0b4dec" />
<path d="M2503.5,1019.3 L2522.6,1028.5 L2517.5,1056 L2403,1236.5 Q2388,1243 2374,1232.5 L2373.8,1232.3 L2411.6,1123.6 Z" fill="url(#gPlate)"/>
<path d="M2498.5,1023.4 L2503.5,1019.3 L2431.8,1100.7 Q2411.6,1123.6 2403.3,1147.5 L2373.8,1232.3 L2375.2,1218.8 L2402.9,1144.1 Q2410.7,1123.1 2430.0,1101.1 Z" fill="#1a5dfa" />
<ellipse cx="2462" cy="1131" rx="7.5" ry="25" transform="rotate(31 2462 1131)" fill="#0530b0"/>
<ellipse cx="2464.5" cy="1132.5" rx="4.5" ry="21" transform="rotate(31 2464.5 1132.5)" fill="#0a3fd0"/>
<ellipse cx="2281.5" cy="1039.0" rx="13" ry="3.2" transform="rotate(33 2281.5 1039.0)" fill="#6a78ff" opacity="0.55"/>
<ellipse cx="2332.9" cy="1072.0" rx="13" ry="3.2" transform="rotate(33 2332.9 1072.0)" fill="#6a78ff" opacity="0.55"/>
<ellipse cx="2362.7" cy="1089.0" rx="13" ry="3.2" transform="rotate(33 2362.7 1089.0)" fill="#6a78ff" opacity="0.55"/>
<ellipse cx="2392.5" cy="1112.0" rx="13" ry="3.2" transform="rotate(33 2392.5 1112.0)" fill="#6a78ff" opacity="0.55"/>
<ellipse cx="2419.0" cy="1128.6" rx="13" ry="3.2" transform="rotate(33 2419.0 1128.6)" fill="#6a78ff" opacity="0.55"/>
<circle cx="2394" cy="1082" r="2.3" fill="#cfd4f0"/>
</g>
<circle cx="2734.0" cy="983.0" r="139.5" fill="#fff" stroke="#d96a3a" stroke-width="1.6"/>
<circle cx="2531.0" cy="1485.0" r="139.5" fill="#fff" stroke="#d96a3a" stroke-width="1.6"/>
<circle cx="2279.0" cy="1975.0" r="139.5" fill="#fff" stroke="#d96a3a" stroke-width="1.6"/>
<circle cx="2068.0" cy="2482.0" r="139.5" fill="#fff" stroke="#d96a3a" stroke-width="1.6"/>
<rect x="2502.5" y="1165.0" width="463.5" height="112.0" rx="56.0" fill="#e0703f"/>
<text x="2605.0" y="1249.3" font-size="80" fill="#fff" textLength="249.3" lengthAdjust="spacingAndGlyphs">C245-I</text>
<rect x="2299.6" y="1667.4" width="463.8" height="112.3" rx="56.1" fill="#e0703f"/>
<text x="2372.8" y="1751.9" font-size="80" fill="#fff" textLength="306.5" lengthAdjust="spacingAndGlyphs">C245-IS</text>
<rect x="2046.7" y="2156.5" width="463.8" height="112.3" rx="56.2" fill="#e0703f"/>
<text x="2103.2" y="2241.0" font-size="80" fill="#fff" textLength="343.5" lengthAdjust="spacingAndGlyphs">C245-SK</text>
<rect x="1837.0" y="2663.0" width="463.4" height="113.0" rx="56.5" fill="#e0703f"/>
<text x="1926.1" y="2747.8" font-size="80" fill="#fff" textLength="287.0" lengthAdjust="spacingAndGlyphs">C245-K</text>
<g clip-path="url(#cc0)">
<path d="M2613.0,984.1 C2625.8,982.9 2662.0,980.1 2689.9,977.2 C2717.8,974.2 2761.7,969.3 2780.4,966.3 C2799.2,963.3 2790.1,964.3 2802.2,959.4 C2814.3,954.6 2839.6,941.9 2852.9,937.3 C2866.2,932.7 2877.1,932.8 2881.9,931.9 L2881.9,1044.2 L2881.9,1044.2 C2877.1,1043.1 2866.2,1041.8 2852.9,1037.3 C2839.6,1032.9 2814.3,1022.0 2802.2,1017.4 C2790.1,1012.8 2799.2,1012.9 2780.4,1009.8 C2761.7,1006.7 2717.8,1002.5 2689.9,998.9 C2662.0,995.4 2625.8,990.2 2613.0,988.4 Z" fill="url(#gI)"/>
<path d="M2858.7,937.3 V1037.7" stroke="#8a8a92" stroke-width="1.5"/>
<path d="M2860.9,937.3 V1037.7" stroke="#f4f4f4" stroke-width="2"/>
</g>
<g clip-path="url(#cc1)">
<path d="M2442.0,1433.0 C2447.6,1436.4 2463.2,1445.2 2475.4,1453.6 C2487.6,1462.0 2503.1,1476.0 2515.2,1483.3 C2527.3,1490.7 2537.0,1495.1 2547.8,1497.8 C2558.7,1500.5 2570.2,1501.4 2580.4,1499.6 C2590.7,1497.8 2593.1,1494.3 2609.4,1487.0 C2625.7,1479.6 2666.8,1460.7 2678.3,1455.4 L2652.9,1575.0 L2652.9,1575.0 C2645.0,1570.6 2618.5,1554.8 2605.8,1548.6 C2593.1,1542.3 2587.1,1540.8 2576.8,1537.7 C2566.5,1534.5 2555.7,1534.7 2544.2,1529.7 C2532.7,1524.8 2520.7,1518.1 2508.0,1508.0 C2495.3,1497.8 2478.9,1480.6 2468.1,1468.8 C2457.4,1457.1 2447.6,1442.6 2443.5,1437.3 Z" fill="url(#gIS)"/>
<path d="M2443.5,1434.8 C2448.8,1439.3 2464.0,1451.7 2475.4,1461.6 C2486.7,1471.5 2499.5,1485.6 2511.6,1494.2 C2523.7,1502.8 2535.7,1509.3 2547.8,1513.4 C2559.9,1517.5 2578.0,1517.9 2584.1,1518.8" fill="none" stroke="#3c3c46" stroke-width="4.5" stroke-linecap="round"/>
<path d="M2489.9,1486.2 C2494.7,1489.9 2509.2,1502.1 2518.8,1508.0 C2528.5,1513.9 2538.2,1518.4 2547.8,1521.7 C2557.5,1525.1 2572.0,1526.9 2576.8,1527.9" fill="none" stroke="#fff" stroke-width="3" stroke-linecap="round" opacity="0.9"/>
</g>
<g clip-path="url(#cc2)">
<polygon points="2349.3,1966.3 2367.4,1975.4 2392.8,1969.9 2421.7,1946.4 2421.7,2024.3 2392.8,2008.0 2367.4,1994.2 2349.3,2006.2" fill="url(#gNeck)"/>
<polygon points="2209.8,2008.7 2220.7,1997.8 2356.5,2003.6 2392.8,2008.0 2389.1,2012.3" fill="#9a9aa4"/>
<polygon points="2179.0,1957.6 2392.8,1960.1 2367.4,1979.0 2367.4,1994.2 2349.3,2006.2 2220.7,1998.6" fill="url(#gSKf)"/>
<polygon points="2152.5,1955.8 2392.8,1958.0 2392.8,1960.9 2179.0,1958.3" fill="#d2d2d8"/>
<polygon points="2152.5,1956.2 2179.7,1958.0 2221.4,1997.8 2210.1,2008.7" fill="#72727c"/>
</g>
<g clip-path="url(#cc3)">
<polygon points="2183.7,2445.7 2214.5,2445.7 2214.5,2535.1 2183.7,2535.1" fill="url(#gNeck)"/>
<polygon points="2163.8,2467.4 2185.5,2467.4 2185.5,2501.4 2163.8,2501.4" fill="url(#gNeck)"/>
<polygon points="2026.1,2531.9 2049.6,2512.3 2185.5,2514.5 2185.5,2533.3" fill="#80808a"/>
<polygon points="1993.5,2449.6 2183.7,2450.7 2167.4,2467.4 2167.4,2501.4 2183.7,2514.5 2049.6,2512.7" fill="url(#gKf)"/>
<polygon points="1948.2,2452.2 1994.2,2449.3 2050.4,2512.3 2026.8,2531.9" fill="#6e6e78"/>
<path d="M2189.1,2446.4 V2534.4" stroke="#5a5a64" stroke-width="2"/>
</g>
<circle cx="2734.0" cy="983.0" r="139.5" fill="none" stroke="#d96a3a" stroke-width="1.6"/>
<circle cx="2531.0" cy="1485.0" r="139.5" fill="none" stroke="#d96a3a" stroke-width="1.6"/>
<circle cx="2279.0" cy="1975.0" r="139.5" fill="none" stroke="#d96a3a" stroke-width="1.6"/>
<circle cx="2068.0" cy="2482.0" r="139.5" fill="none" stroke="#d96a3a" stroke-width="1.6"/>
</svg>
</body></html>
